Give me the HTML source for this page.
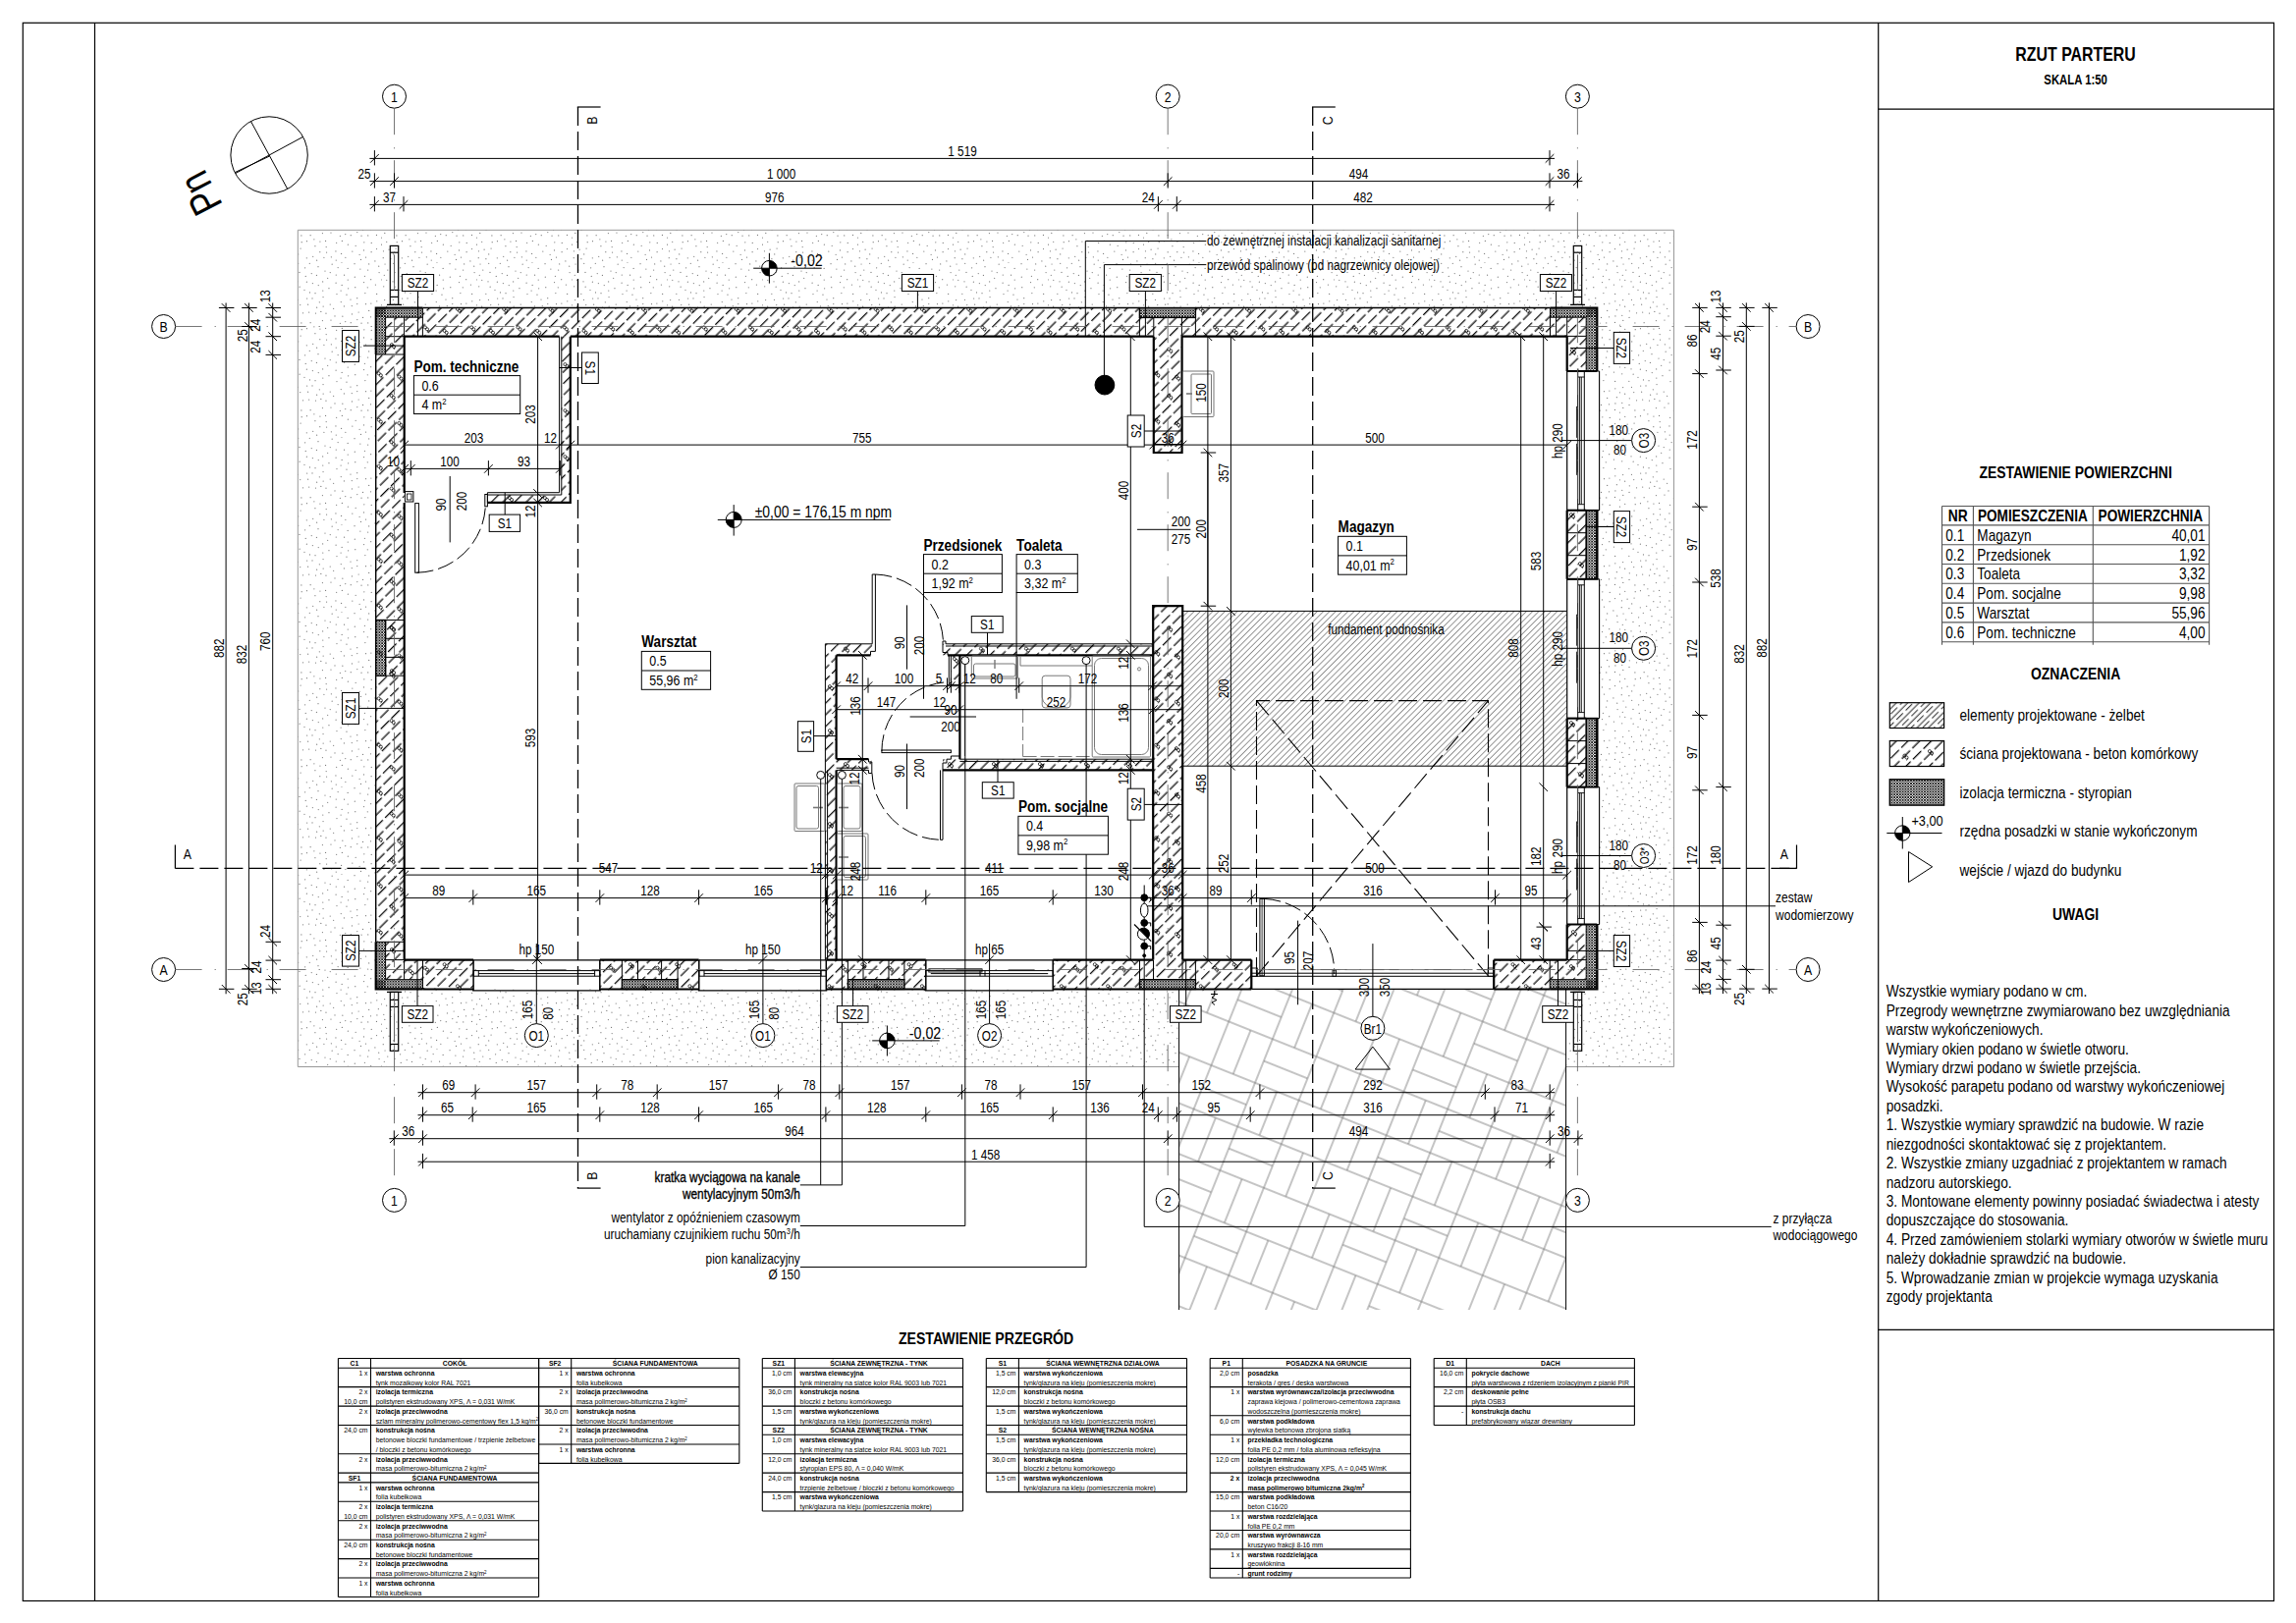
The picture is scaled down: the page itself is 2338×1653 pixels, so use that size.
<!DOCTYPE html>
<html><head><meta charset="utf-8"><title>Rzut parteru</title>
<style>html,body{margin:0;padding:0;background:#fff}svg{display:block}text{font-family:"Liberation Sans",sans-serif;fill:#000}</style>
</head><body>
<svg width="2338" height="1653" viewBox="0 0 2338 1653">
<defs><pattern id="gr" width="97" height="89" patternUnits="userSpaceOnUse"><g fill="#7a7a7a"><circle cx="31.41" cy="13.43" r="0.62"/><circle cx="63.14" cy="6.45" r="0.62"/><circle cx="51.98" cy="32.55" r="0.62"/><circle cx="5.63" cy="45.16" r="0.62"/><circle cx="3.64" cy="38.59" r="0.62"/><circle cx="6.78" cy="8.07" r="0.62"/><circle cx="41.18" cy="73.59" r="0.62"/><circle cx="12.01" cy="19.87" r="0.62"/><circle cx="60.86" cy="84.35" r="0.62"/><circle cx="94.7" cy="4.15" r="0.62"/><circle cx="83.27" cy="25.78" r="0.62"/><circle cx="13.99" cy="10.48" r="0.62"/><circle cx="29.92" cy="72.64" r="0.62"/><circle cx="17.53" cy="51.76" r="0.62"/><circle cx="61.97" cy="33.14" r="0.62"/><circle cx="53.13" cy="5.59" r="0.62"/><circle cx="5.78" cy="18.33" r="0.62"/><circle cx="66" cy="38.06" r="0.62"/><circle cx="30.47" cy="52.12" r="0.62"/><circle cx="43.96" cy="26.68" r="0.62"/><circle cx="77.05" cy="62.21" r="0.62"/><circle cx="23.68" cy="51.12" r="0.62"/><circle cx="50.94" cy="77.89" r="0.62"/><circle cx="70.76" cy="25.63" r="0.62"/><circle cx="95.08" cy="10.51" r="0.62"/><circle cx="40.56" cy="67.39" r="0.62"/><circle cx="14.74" cy="43.52" r="0.62"/><circle cx="3.8" cy="59.47" r="0.62"/><circle cx="74.16" cy="51" r="0.62"/><circle cx="67.44" cy="52.9" r="0.62"/><circle cx="56.25" cy="40.6" r="0.62"/><circle cx="81.48" cy="84.08" r="0.62"/><circle cx="45.99" cy="59.11" r="0.62"/><circle cx="37.42" cy="59.51" r="0.62"/><circle cx="5.72" cy="68.37" r="0.62"/><circle cx="79.47" cy="76.89" r="0.62"/><circle cx="27.01" cy="36.96" r="0.62"/><circle cx="34.8" cy="78.69" r="0.62"/><circle cx="22.63" cy="43.16" r="0.62"/><circle cx="57.14" cy="23.38" r="0.62"/><circle cx="35.82" cy="50.4" r="0.62"/><circle cx="92.45" cy="61.45" r="0.62"/><circle cx="50" cy="54.97" r="0.62"/><circle cx="87.25" cy="69.42" r="0.62"/><circle cx="38.06" cy="35.51" r="0.62"/><circle cx="10.04" cy="56.45" r="0.62"/><circle cx="20.25" cy="14.44" r="0.62"/><circle cx="32.99" cy="4.68" r="0.62"/><circle cx="9.84" cy="32.36" r="0.62"/><circle cx="2.47" cy="77.82" r="0.62"/><circle cx="59.56" cy="13.22" r="0.62"/><circle cx="24.47" cy="30.92" r="0.62"/><circle cx="45.2" cy="43.06" r="0.62"/><circle cx="33.24" cy="23.56" r="0.62"/><circle cx="80.4" cy="14.37" r="0.62"/><circle cx="2.24" cy="84.64" r="0.62"/><circle cx="51.24" cy="13.05" r="0.62"/><circle cx="51.23" cy="87.09" r="0.62"/><circle cx="83.74" cy="61.96" r="0.62"/><circle cx="16.2" cy="68.7" r="0.62"/><circle cx="51.66" cy="69.34" r="0.62"/><circle cx="2.71" cy="24.87" r="0.62"/><circle cx="25.14" cy="61.63" r="0.62"/><circle cx="92.78" cy="39.8" r="0.62"/><circle cx="90.89" cy="87.94" r="0.62"/><circle cx="92.64" cy="32.45" r="0.62"/><circle cx="21.38" cy="20.19" r="0.62"/><circle cx="81.52" cy="42.67" r="0.62"/><circle cx="63.34" cy="71.17" r="0.62"/><circle cx="72.76" cy="42.54" r="0.62"/><circle cx="38.93" cy="84.26" r="0.62"/><circle cx="70.31" cy="15.13" r="0.62"/><circle cx="12.71" cy="1.27" r="0.62"/><circle cx="12.71" cy="80.99" r="0.62"/><circle cx="34.32" cy="40.78" r="0.62"/><circle cx="56.58" cy="80.48" r="0.62"/><circle cx="48.66" cy="47.33" r="0.62"/><circle cx="42.69" cy="16.3" r="0.62"/><circle cx="0.38" cy="71.13" r="0.62"/><circle cx="31.62" cy="46.13" r="0.62"/><circle cx="10.29" cy="49.87" r="0.62"/><circle cx="59.42" cy="44.99" r="0.62"/><circle cx="46.37" cy="83.79" r="0.62"/><circle cx="67.82" cy="78.01" r="0.62"/><circle cx="91.39" cy="23.1" r="0.62"/><circle cx="21.3" cy="84.77" r="0.62"/><circle cx="18.99" cy="28.35" r="0.62"/><circle cx="70.05" cy="1.73" r="0.62"/><circle cx="76.47" cy="86.48" r="0.62"/><circle cx="26.23" cy="11.53" r="0.62"/><circle cx="55.35" cy="62.34" r="0.62"/><circle cx="8.12" cy="76.2" r="0.62"/><circle cx="51.11" cy="21.22" r="0.62"/><circle cx="24.29" cy="1.37" r="0.62"/><circle cx="38.13" cy="45.1" r="0.62"/><circle cx="27.35" cy="21.56" r="0.62"/><circle cx="94.34" cy="48.69" r="0.62"/><circle cx="30.03" cy="31.74" r="0.62"/><circle cx="4.04" cy="2" r="0.62"/><circle cx="72.8" cy="58.52" r="0.62"/><circle cx="37.78" cy="29.03" r="0.62"/><circle cx="86.52" cy="55.83" r="0.62"/><circle cx="71.18" cy="72.29" r="0.62"/><circle cx="66.24" cy="61.71" r="0.62"/><circle cx="60.74" cy="60.58" r="0.62"/><circle cx="45.23" cy="10.55" r="0.62"/><circle cx="86.69" cy="17.73" r="0.62"/><circle cx="47.16" cy="2.21" r="0.62"/><circle cx="0.35" cy="43.76" r="0.62"/><circle cx="27.71" cy="83.27" r="0.62"/><circle cx="28.88" cy="65.77" r="0.62"/><circle cx="63.63" cy="26.77" r="0.62"/><circle cx="72.72" cy="36.74" r="0.62"/><circle cx="92.53" cy="75.53" r="0.62"/><circle cx="84.67" cy="1.94" r="0.62"/><circle cx="86.88" cy="42.12" r="0.62"/><circle cx="56.96" cy="0.02" r="0.62"/><circle cx="37.64" cy="19.9" r="0.62"/><circle cx="79.54" cy="20.54" r="0.62"/><circle cx="21.48" cy="67.68" r="0.62"/><circle cx="21.66" cy="37.12" r="0.62"/><circle cx="87.12" cy="78.64" r="0.62"/><circle cx="92.9" cy="54.91" r="0.62"/><circle cx="79.81" cy="68.78" r="0.62"/><circle cx="75.88" cy="7.03" r="0.62"/><circle cx="31.6" cy="87.24" r="0.62"/><circle cx="56.09" cy="29.04" r="0.62"/><circle cx="57.83" cy="55.18" r="0.62"/><circle cx="63.21" cy="18.11" r="0.62"/><circle cx="15.88" cy="61.89" r="0.62"/><circle cx="14.15" cy="25.21" r="0.62"/><circle cx="12.46" cy="38.32" r="0.62"/><circle cx="84.68" cy="49.41" r="0.62"/><circle cx="34.94" cy="68.05" r="0.62"/><circle cx="3.28" cy="13.29" r="0.62"/><circle cx="83.64" cy="8.09" r="0.62"/><circle cx="0.13" cy="17.98" r="0.62"/><circle cx="15.07" cy="75.04" r="0.62"/><circle cx="9.88" cy="85.65" r="0.62"/><circle cx="67.26" cy="44.54" r="0.62"/><circle cx="78.53" cy="56.45" r="0.62"/><circle cx="80.87" cy="31.57" r="0.62"/><circle cx="0.26" cy="64.24" r="0.62"/><circle cx="2.77" cy="54.26" r="0.62"/><circle cx="75.13" cy="81.35" r="0.62"/><circle cx="40" cy="9.08" r="0.62"/><circle cx="41.57" cy="79.04" r="0.62"/><circle cx="40.98" cy="52.21" r="0.62"/><circle cx="57.37" cy="67.45" r="0.62"/><circle cx="19.62" cy="5.85" r="0.62"/></g></pattern><pattern id="ak" width="15.2" height="16.76" patternUnits="userSpaceOnUse" patternTransform="rotate(-45)"><path d="M0 3.1H11.9M7.6 11.5H15.2M0 11.5H4.3" stroke="#000" stroke-width="1.2"/></pattern><pattern id="zb" width="13.24" height="8.2" patternUnits="userSpaceOnUse" patternTransform="rotate(-45)"><path d="M0 2H13.24M0 6.1H9.2" stroke="#000" stroke-width="0.86"/></pattern><pattern id="st" width="2.8" height="2.8" patternUnits="userSpaceOnUse"><path d="M0 0L2.8 2.8M2.8 0L0 2.8" stroke="#000" stroke-width="0.86"/></pattern><pattern id="fu" width="10" height="4.43" patternUnits="userSpaceOnUse" patternTransform="rotate(-45)"><path d="M0 2.2H10" stroke="#6a6a6a" stroke-width="0.75"/></pattern><pattern id="pv" width="192" height="96" patternUnits="userSpaceOnUse" patternTransform="translate(1200 1007) rotate(21.8)"><g stroke="#7c7c7c" stroke-width="0.9" fill="none"><path transform="translate(12 12)" d="M0 0H192M0 48H192M0 0V96M48 0V96M96 0V96M144 0V96M72 0V48M24 48V96M48 72H96M96 24H144M168 0V48M120 48V96"/><path transform="translate(12 -84)" d="M0 0H192M0 48H192M0 0V96M48 0V96M96 0V96M144 0V96M72 0V48M24 48V96M48 72H96M96 24H144M168 0V48M120 48V96"/><path transform="translate(-180 12)" d="M0 0H192M0 48H192M0 0V96M48 0V96M96 0V96M144 0V96M72 0V48M24 48V96M48 72H96M96 24H144M168 0V48M120 48V96"/><path transform="translate(-180 -84)" d="M0 0H192M0 48H192M0 0V96M48 0V96M96 0V96M144 0V96M72 0V48M24 48V96M48 72H96M96 24H144M168 0V48M120 48V96"/></g></pattern><pattern id="akl" width="15.2" height="16.76" patternUnits="userSpaceOnUse" patternTransform="translate(3 0) rotate(-45)"><path d="M0 3.1H11.9M7.6 11.5H15.2M0 11.5H4.3" stroke="#000" stroke-width="1.2"/></pattern><g id="s8" fill="none" stroke="#000" stroke-width="0.7"><circle cx="-1.1" cy="-0.9" r="1.55"/><circle cx="1" cy="1" r="1.55"/><path d="M2.4 1.6L1 4"/></g></defs>
<rect x="23.3" y="23.3" width="2292.2" height="1607.2" stroke="#000" stroke-width="1.2" fill="none"/>
<path d="M96.5 23.3L96.5 1630.5" stroke="#000" stroke-width="1.2"/>
<path d="M1912.7 23.3L1912.7 1630.5" stroke="#000" stroke-width="1.2"/>
<path d="M1912.7 111.2L2315.5 111.2" stroke="#000" stroke-width="1.2"/>
<path d="M1912.7 1354.3L2315.5 1354.3" stroke="#000" stroke-width="1.2"/>
<rect x="303.3" y="234.3" width="1401.2" height="852.2" fill="url(#gr)" stroke="none"/>
<rect x="382.7" y="313.5" width="1246.1" height="693.9" fill="#fff" stroke="none"/>
<rect x="1200.6" y="1007.4" width="394" height="326.6" fill="#fff" stroke="none"/>
<rect x="1200.6" y="1007.4" width="394" height="326.6" fill="url(#pv)" stroke="none"/>
<path d="M1200.6 1086.5L303.3 1086.5L303.3 234.3L1704.5 234.3L1704.5 1086.5L1594.6 1086.5" stroke="#999" stroke-width="1" fill="none"/>
<path d="M1200.6 1007.4L1200.6 1334" stroke="#000" stroke-width="1"/>
<path d="M1594.6 1007.4L1594.6 1334" stroke="#000" stroke-width="1"/>
<rect x="1204.5" y="622.4" width="390.7" height="157.8" fill="url(#fu)" stroke="none"/>
<path d="M1204.5 622.4L1595.2 622.4" stroke="#000" stroke-width="1"/>
<path d="M1204.5 780.2L1595.2 780.2" stroke="#000" stroke-width="1"/>
<rect x="430.4" y="313.5" width="730" height="29.2" fill="url(#ak)" stroke="none"/>
<rect x="1217.4" y="313.5" width="361.6" height="29.2" fill="url(#ak)" stroke="none"/>
<rect x="382.7" y="361" width="29" height="270.5" fill="url(#ak)" stroke="none"/>
<rect x="382.7" y="688.2" width="29" height="271.1" fill="url(#ak)" stroke="none"/>
<rect x="430.5" y="977.6" width="51.5" height="29.8" fill="url(#ak)" stroke="none"/>
<rect x="610.8" y="977.6" width="22.6" height="29.8" fill="url(#ak)" stroke="none"/>
<rect x="690.1" y="977.6" width="21.5" height="29.8" fill="url(#ak)" stroke="none"/>
<rect x="841.5" y="977.6" width="21.9" height="29.8" fill="url(#ak)" stroke="none"/>
<rect x="920.9" y="977.6" width="21.9" height="29.8" fill="url(#ak)" stroke="none"/>
<rect x="1072.2" y="977.6" width="88.3" height="29.8" fill="url(#ak)" stroke="none"/>
<rect x="1217.4" y="977.6" width="56.9" height="29.8" fill="url(#ak)" stroke="none"/>
<rect x="1521.2" y="977.6" width="57" height="29.8" fill="url(#ak)" stroke="none"/>
<rect x="1174.8" y="342.7" width="28.8" height="118.3" fill="url(#ak)" stroke="none"/>
<rect x="1174.2" y="617.2" width="30" height="360.4" fill="url(#ak)" stroke="none"/>
<rect x="571.6" y="342.7" width="9.2" height="169.2" fill="url(#ak)" stroke="none"/>
<rect x="497" y="504" width="74.6" height="7.9" fill="url(#ak)" stroke="none"/>
<rect x="840.4" y="655.8" width="11.2" height="321.8" fill="url(#ak)" stroke="none"/>
<rect x="851.6" y="655.8" width="36.6" height="11.5" fill="url(#ak)" stroke="none"/>
<rect x="960" y="655.8" width="213.6" height="11.5" fill="url(#ak)" stroke="none"/>
<rect x="851.6" y="773.2" width="35.8" height="11.2" fill="url(#ak)" stroke="none"/>
<rect x="960" y="773.2" width="213.6" height="11.2" fill="url(#ak)" stroke="none"/>
<rect x="968.4" y="667.3" width="9" height="29.7" fill="url(#ak)" stroke="none"/>
<rect x="382.7" y="313.5" width="47.7" height="9.7" fill="url(#st)" stroke="none"/>
<rect x="382.7" y="313.5" width="9.9" height="47.5" fill="url(#st)" stroke="none"/>
<rect x="392.6" y="323.2" width="37.8" height="19.5" fill="url(#ak)" stroke="none"/>
<rect x="392.6" y="342.7" width="19.1" height="18.3" fill="url(#ak)" stroke="none"/>
<rect x="1578.5" y="313.5" width="47.8" height="9.7" fill="url(#st)" stroke="none"/>
<rect x="1615.2" y="313.5" width="11.1" height="64.5" fill="url(#st)" stroke="none"/>
<rect x="1578.5" y="323.2" width="36.7" height="19.5" fill="url(#ak)" stroke="none"/>
<rect x="1595.7" y="342.7" width="19.5" height="35.3" fill="url(#ak)" stroke="none"/>
<rect x="382.7" y="959.3" width="9.9" height="48.1" fill="url(#st)" stroke="none"/>
<rect x="382.7" y="997.7" width="47.8" height="9.7" fill="url(#st)" stroke="none"/>
<rect x="392.6" y="959.3" width="19.1" height="18.3" fill="url(#ak)" stroke="none"/>
<rect x="392.6" y="977.6" width="37.9" height="20.1" fill="url(#ak)" stroke="none"/>
<rect x="1615.2" y="941.5" width="11.1" height="65.9" fill="url(#st)" stroke="none"/>
<rect x="1578.2" y="997.7" width="48.1" height="9.7" fill="url(#st)" stroke="none"/>
<rect x="1595.7" y="941.5" width="19.5" height="36.1" fill="url(#ak)" stroke="none"/>
<rect x="1578.2" y="977.6" width="37" height="20.1" fill="url(#ak)" stroke="none"/>
<rect x="1160.4" y="313.5" width="57" height="9.9" fill="url(#st)" stroke="none"/>
<rect x="1160.4" y="323.4" width="57" height="19.3" fill="url(#ak)" stroke="none"/>
<rect x="1160.5" y="997.7" width="56.9" height="9.7" fill="url(#st)" stroke="none"/>
<rect x="1160.5" y="977.6" width="56.9" height="20.1" fill="url(#ak)" stroke="none"/>
<rect x="382.7" y="631.5" width="10" height="56.7" fill="url(#st)" stroke="none"/>
<rect x="392.7" y="631.5" width="19" height="56.7" fill="url(#ak)" stroke="none"/>
<rect x="633.4" y="997.7" width="56.7" height="9.7" fill="url(#st)" stroke="none"/>
<rect x="633.4" y="977.6" width="56.7" height="20.1" fill="url(#ak)" stroke="none"/>
<rect x="863.4" y="997.7" width="57.5" height="9.7" fill="url(#st)" stroke="none"/>
<rect x="863.4" y="977.6" width="57.5" height="20.1" fill="url(#ak)" stroke="none"/>
<rect x="1615.2" y="519.7" width="11.1" height="70.1" fill="url(#st)" stroke="none"/>
<rect x="1595.7" y="519.7" width="19.5" height="70.1" fill="url(#ak)" stroke="none"/>
<rect x="1615.2" y="731.6" width="11.1" height="70" fill="url(#st)" stroke="none"/>
<rect x="1595.7" y="731.6" width="19.5" height="70" fill="url(#ak)" stroke="none"/>
<use href="#s8" x="434" y="334.3"/>
<use href="#s8" x="453.7" y="337.8"/>
<use href="#s8" x="467" y="315.7"/>
<use href="#s8" x="481.3" y="334.3"/>
<use href="#s8" x="501" y="337.8"/>
<use href="#s8" x="514.3" y="315.7"/>
<use href="#s8" x="528.6" y="334.3"/>
<use href="#s8" x="548.3" y="337.8"/>
<use href="#s8" x="561.6" y="315.7"/>
<use href="#s8" x="575.9" y="334.3"/>
<use href="#s8" x="595.6" y="337.8"/>
<use href="#s8" x="608.9" y="315.7"/>
<use href="#s8" x="623.2" y="334.3"/>
<use href="#s8" x="642.9" y="337.8"/>
<use href="#s8" x="656.2" y="315.7"/>
<use href="#s8" x="670.5" y="334.3"/>
<use href="#s8" x="690.2" y="337.8"/>
<use href="#s8" x="703.5" y="315.7"/>
<use href="#s8" x="717.8" y="334.3"/>
<use href="#s8" x="737.5" y="337.8"/>
<use href="#s8" x="750.8" y="315.7"/>
<use href="#s8" x="765.1" y="334.3"/>
<use href="#s8" x="784.8" y="337.8"/>
<use href="#s8" x="798.1" y="315.7"/>
<use href="#s8" x="812.4" y="334.3"/>
<use href="#s8" x="832.1" y="337.8"/>
<use href="#s8" x="845.4" y="315.7"/>
<use href="#s8" x="859.7" y="334.3"/>
<use href="#s8" x="879.4" y="337.8"/>
<use href="#s8" x="892.7" y="315.7"/>
<use href="#s8" x="907" y="334.3"/>
<use href="#s8" x="926.7" y="337.8"/>
<use href="#s8" x="940" y="315.7"/>
<use href="#s8" x="954.3" y="334.3"/>
<use href="#s8" x="974" y="337.8"/>
<use href="#s8" x="987.3" y="315.7"/>
<use href="#s8" x="1001.6" y="334.3"/>
<use href="#s8" x="1021.3" y="337.8"/>
<use href="#s8" x="1034.6" y="315.7"/>
<use href="#s8" x="1048.9" y="334.3"/>
<use href="#s8" x="1068.6" y="337.8"/>
<use href="#s8" x="1081.9" y="315.7"/>
<use href="#s8" x="1096.2" y="334.3"/>
<use href="#s8" x="1115.9" y="337.8"/>
<use href="#s8" x="1129.2" y="315.7"/>
<use href="#s8" x="1143.5" y="334.3"/>
<use href="#s8" x="1223.8" y="315.7"/>
<use href="#s8" x="1238.1" y="334.3"/>
<use href="#s8" x="1257.8" y="337.8"/>
<use href="#s8" x="1271.1" y="315.7"/>
<use href="#s8" x="1285.4" y="334.3"/>
<use href="#s8" x="1305.1" y="337.8"/>
<use href="#s8" x="1318.4" y="315.7"/>
<use href="#s8" x="1332.7" y="334.3"/>
<use href="#s8" x="1352.4" y="337.8"/>
<use href="#s8" x="1365.7" y="315.7"/>
<use href="#s8" x="1380" y="334.3"/>
<use href="#s8" x="1399.7" y="337.8"/>
<use href="#s8" x="1413" y="315.7"/>
<use href="#s8" x="1427.3" y="334.3"/>
<use href="#s8" x="1447" y="337.8"/>
<use href="#s8" x="1460.3" y="315.7"/>
<use href="#s8" x="1474.6" y="334.3"/>
<use href="#s8" x="1494.3" y="337.8"/>
<use href="#s8" x="1507.6" y="315.7"/>
<use href="#s8" x="1521.9" y="334.3"/>
<use href="#s8" x="1541.6" y="337.8"/>
<use href="#s8" x="1554.9" y="315.7"/>
<use href="#s8" x="1569.2" y="334.3"/>
<use href="#s8" x="434" y="986.6"/>
<use href="#s8" x="453.7" y="983.1"/>
<use href="#s8" x="467" y="1005.2"/>
<use href="#s8" x="623.2" y="986.6"/>
<use href="#s8" x="642.9" y="983.1"/>
<use href="#s8" x="656.2" y="1005.2"/>
<use href="#s8" x="670.5" y="986.6"/>
<use href="#s8" x="690.2" y="983.1"/>
<use href="#s8" x="703.5" y="1005.2"/>
<use href="#s8" x="845.4" y="1005.2"/>
<use href="#s8" x="859.7" y="986.6"/>
<use href="#s8" x="879.4" y="983.1"/>
<use href="#s8" x="892.7" y="1005.2"/>
<use href="#s8" x="907" y="986.6"/>
<use href="#s8" x="926.7" y="983.1"/>
<use href="#s8" x="940" y="1005.2"/>
<use href="#s8" x="1081.9" y="1005.2"/>
<use href="#s8" x="1096.2" y="986.6"/>
<use href="#s8" x="1115.9" y="983.1"/>
<use href="#s8" x="1129.2" y="1005.2"/>
<use href="#s8" x="1143.5" y="986.6"/>
<use href="#s8" x="1223.8" y="1005.2"/>
<use href="#s8" x="1238.1" y="986.6"/>
<use href="#s8" x="1257.8" y="983.1"/>
<use href="#s8" x="1541.6" y="983.1"/>
<use href="#s8" x="1554.9" y="1005.2"/>
<use href="#s8" x="1569.2" y="986.6"/>
<use href="#s8" x="386.8" y="381.2"/>
<use href="#s8" x="407.5" y="384.6"/>
<use href="#s8" x="399.7" y="403.8"/>
<use href="#s8" x="386.8" y="428.5"/>
<use href="#s8" x="407.5" y="431.9"/>
<use href="#s8" x="399.7" y="451.1"/>
<use href="#s8" x="386.8" y="475.8"/>
<use href="#s8" x="407.5" y="479.2"/>
<use href="#s8" x="399.7" y="498.4"/>
<use href="#s8" x="386.8" y="523.1"/>
<use href="#s8" x="407.5" y="526.5"/>
<use href="#s8" x="399.7" y="545.7"/>
<use href="#s8" x="386.8" y="570.4"/>
<use href="#s8" x="407.5" y="573.8"/>
<use href="#s8" x="399.7" y="593"/>
<use href="#s8" x="386.8" y="617.7"/>
<use href="#s8" x="407.5" y="621.1"/>
<use href="#s8" x="399.7" y="640.3"/>
<use href="#s8" x="386.8" y="665"/>
<use href="#s8" x="407.5" y="668.4"/>
<use href="#s8" x="399.7" y="687.6"/>
<use href="#s8" x="386.8" y="712.3"/>
<use href="#s8" x="407.5" y="715.7"/>
<use href="#s8" x="399.7" y="734.9"/>
<use href="#s8" x="386.8" y="759.6"/>
<use href="#s8" x="407.5" y="763"/>
<use href="#s8" x="399.7" y="782.2"/>
<use href="#s8" x="386.8" y="806.9"/>
<use href="#s8" x="407.5" y="810.3"/>
<use href="#s8" x="399.7" y="829.5"/>
<use href="#s8" x="386.8" y="854.2"/>
<use href="#s8" x="407.5" y="857.6"/>
<use href="#s8" x="399.7" y="876.8"/>
<use href="#s8" x="386.8" y="901.5"/>
<use href="#s8" x="407.5" y="904.9"/>
<use href="#s8" x="399.7" y="924.1"/>
<use href="#s8" x="386.8" y="948.8"/>
<use href="#s8" x="407.5" y="952.2"/>
<use href="#s8" x="1191.3" y="356.5"/>
<use href="#s8" x="1178.4" y="381.2"/>
<use href="#s8" x="1199.1" y="384.6"/>
<use href="#s8" x="1191.3" y="403.8"/>
<use href="#s8" x="1178.4" y="428.5"/>
<use href="#s8" x="1199.1" y="431.9"/>
<use href="#s8" x="1191.3" y="451.1"/>
<use href="#s8" x="1191.2" y="640.3"/>
<use href="#s8" x="1178.3" y="665"/>
<use href="#s8" x="1199" y="668.4"/>
<use href="#s8" x="1191.2" y="687.6"/>
<use href="#s8" x="1178.3" y="712.3"/>
<use href="#s8" x="1199" y="715.7"/>
<use href="#s8" x="1191.2" y="734.9"/>
<use href="#s8" x="1178.3" y="759.6"/>
<use href="#s8" x="1199" y="763"/>
<use href="#s8" x="1191.2" y="782.2"/>
<use href="#s8" x="1178.3" y="806.9"/>
<use href="#s8" x="1199" y="810.3"/>
<use href="#s8" x="1191.2" y="829.5"/>
<use href="#s8" x="1178.3" y="854.2"/>
<use href="#s8" x="1199" y="857.6"/>
<use href="#s8" x="1191.2" y="876.8"/>
<use href="#s8" x="1178.3" y="901.5"/>
<use href="#s8" x="1199" y="904.9"/>
<use href="#s8" x="1191.2" y="924.1"/>
<use href="#s8" x="1178.3" y="948.8"/>
<use href="#s8" x="1199" y="952.2"/>
<use href="#s8" x="1191.2" y="971.4"/>
<use href="#s8" x="1602" y="358"/>
<use href="#s8" x="1601" y="525"/>
<use href="#s8" x="1610" y="575"/>
<use href="#s8" x="1601" y="737"/>
<use href="#s8" x="1610" y="789"/>
<use href="#s8" x="1603" y="950"/>
<use href="#s8" x="1601" y="985"/>
<use href="#s8" x="400" y="352"/>
<use href="#s8" x="400" y="640"/>
<use href="#s8" x="400" y="684"/>
<use href="#s8" x="400" y="968"/>
<use href="#s8" x="419" y="990"/>
<use href="#s8" x="576.5" y="372"/>
<use href="#s8" x="576.5" y="419"/>
<use href="#s8" x="576.5" y="466"/>
<use href="#s8" x="520" y="508"/>
<use href="#s8" x="556" y="508"/>
<use href="#s8" x="846" y="700"/>
<use href="#s8" x="846" y="745"/>
<use href="#s8" x="846" y="790"/>
<use href="#s8" x="846" y="840"/>
<use href="#s8" x="846" y="886"/>
<use href="#s8" x="846" y="932"/>
<use href="#s8" x="846" y="970"/>
<use href="#s8" x="862" y="661.5"/>
<use href="#s8" x="1000" y="661.5"/>
<use href="#s8" x="1046" y="661.5"/>
<use href="#s8" x="1093" y="661.5"/>
<use href="#s8" x="1140" y="661.5"/>
<use href="#s8" x="862" y="779"/>
<use href="#s8" x="968" y="779"/>
<use href="#s8" x="1013" y="779"/>
<use href="#s8" x="1060" y="779"/>
<use href="#s8" x="1107" y="779"/>
<use href="#s8" x="1150" y="779"/>
<use href="#s8" x="973" y="672"/>
<path d="M430.4 313.5L1160.4 313.5" stroke="#000" stroke-width="1.4" fill="none"/>
<path d="M1217.4 313.5L1578.5 313.5" stroke="#000" stroke-width="1.4" fill="none"/>
<path d="M382.7 361L382.7 631.5" stroke="#000" stroke-width="1.4" fill="none"/>
<path d="M382.7 688.2L382.7 959.3" stroke="#000" stroke-width="1.4" fill="none"/>
<path d="M430.5 1007.4L482 1007.4" stroke="#000" stroke-width="2"/>
<path d="M610.8 1007.4L711.6 1007.4" stroke="#000" stroke-width="2"/>
<path d="M841.5 1007.4L942.8 1007.4" stroke="#000" stroke-width="2"/>
<path d="M1072.2 1007.4L1274.3 1007.4" stroke="#000" stroke-width="2"/>
<path d="M1521.2 1007.4L1578.2 1007.4" stroke="#000" stroke-width="2"/>
<path d="M382.7 361L382.7 313.5L430.4 313.5" stroke="#000" stroke-width="2" fill="none"/>
<path d="M430.4 313.5L430.4 342.7" stroke="#000" stroke-width="1" fill="none"/>
<path d="M392.6 361L392.6 323.2L430.4 323.2" stroke="#000" stroke-width="1" fill="none"/>
<path d="M382.7 361L411.7 361" stroke="#000" stroke-width="1"/>
<path d="M411.6 323.2L411.6 342.7" stroke="#000" stroke-width="1"/>
<path d="M425.5 313.5L425.5 342.7" stroke="#000" stroke-width="1"/>
<path d="M392.6 342.7L411.7 342.7" stroke="#000" stroke-width="1"/>
<path d="M370 352.1L411.7 352.1" stroke="#000" stroke-width="1"/>
<path d="M1578.5 313.5L1626.3 313.5L1626.3 378" stroke="#000" stroke-width="2.2" fill="none"/>
<path d="M1578.5 313.5L1578.5 342.7" stroke="#000" stroke-width="1"/>
<path d="M1578.5 323.2L1615.2 323.2L1615.2 378" stroke="#000" stroke-width="1" fill="none"/>
<path d="M1595.7 378L1626.3 378" stroke="#000" stroke-width="2"/>
<path d="M1584.6 296.5L1584.6 342.7" stroke="#000" stroke-width="1"/>
<path d="M1595.7 323.2L1595.7 342.7" stroke="#000" stroke-width="1"/>
<path d="M1599 354.5L1643.3 354.5" stroke="#000" stroke-width="1"/>
<path d="M1595.7 342.4L1615.2 342.4" stroke="#000" stroke-width="1"/>
<path d="M382.7 959.3L382.7 1007.4L430.5 1007.4" stroke="#000" stroke-width="2.2" fill="none"/>
<path d="M392.6 959.3L392.6 997.7L430.5 997.7" stroke="#000" stroke-width="1" fill="none"/>
<path d="M382.7 959.3L411.7 959.3" stroke="#000" stroke-width="1"/>
<path d="M430.5 977.6L430.5 1007.4" stroke="#000" stroke-width="1"/>
<path d="M411.6 977.6L411.6 997.7" stroke="#000" stroke-width="1"/>
<path d="M425 977.6L425 1024.6" stroke="#000" stroke-width="1"/>
<path d="M392.6 977.6L411.7 977.6" stroke="#000" stroke-width="1"/>
<path d="M365.5 968.4L411.7 968.4" stroke="#000" stroke-width="1"/>
<path d="M1626.3 941.5L1626.3 1007.4L1578.2 1007.4" stroke="#000" stroke-width="2.4" fill="none"/>
<path d="M1615.2 941.5L1615.2 997.7L1578.2 997.7" stroke="#000" stroke-width="1" fill="none"/>
<path d="M1595.7 941.5L1626.3 941.5" stroke="#000" stroke-width="2"/>
<path d="M1578.2 977.6L1578.2 1007.4" stroke="#000" stroke-width="1"/>
<path d="M1586.5 977.6L1586.5 1024.6" stroke="#000" stroke-width="1"/>
<path d="M1595.7 968.4L1643.5 968.4" stroke="#000" stroke-width="1"/>
<path d="M1595.7 977.6L1615.2 977.6" stroke="#000" stroke-width="1"/>
<rect x="1160.4" y="313.5" width="57" height="9.9" stroke="#000" stroke-width="1.4" fill="none"/>
<path d="M1160.4 323.4L1160.4 342.7" stroke="#000" stroke-width="1"/>
<path d="M1217.4 323.4L1217.4 342.7" stroke="#000" stroke-width="1"/>
<path d="M1166.4 296.5L1166.4 342.7" stroke="#000" stroke-width="1"/>
<path d="M1174.8 323.4L1174.8 342.7" stroke="#000" stroke-width="1"/>
<path d="M1203.4 323.4L1203.4 342.7" stroke="#000" stroke-width="1"/>
<rect x="1160.5" y="997.7" width="56.9" height="9.7" stroke="#000" stroke-width="1.4" fill="none"/>
<path d="M1160.5 977.6L1160.5 997.7" stroke="#000" stroke-width="1"/>
<path d="M1217.4 977.6L1217.4 997.7" stroke="#000" stroke-width="1"/>
<path d="M1174.5 977.6L1174.5 997.7" stroke="#000" stroke-width="1"/>
<path d="M1204 977.6L1204 997.7" stroke="#000" stroke-width="1"/>
<path d="M1207.7 977.6L1207.7 1024.6" stroke="#000" stroke-width="1"/>
<rect x="382.7" y="631.5" width="10" height="56.7" stroke="#000" stroke-width="1.4" fill="none"/>
<path d="M392.7 631.5L411.7 631.5" stroke="#000" stroke-width="1"/>
<path d="M392.7 688.2L411.7 688.2" stroke="#000" stroke-width="1"/>
<path d="M392.7 650.3L411.7 650.3" stroke="#000" stroke-width="1"/>
<path d="M392.7 669.4L411.7 669.4" stroke="#000" stroke-width="1"/>
<rect x="633.4" y="997.7" width="56.7" height="9.7" stroke="#000" stroke-width="1.4" fill="none"/>
<path d="M633.4 977.6L633.4 997.7" stroke="#000" stroke-width="1"/>
<path d="M690.1 977.6L690.1 997.7" stroke="#000" stroke-width="1"/>
<path d="M649.5 977.6L649.5 997.7" stroke="#000" stroke-width="1"/>
<path d="M673.6 977.6L673.6 997.7" stroke="#000" stroke-width="1"/>
<rect x="863.4" y="997.7" width="57.5" height="9.7" stroke="#000" stroke-width="1.4" fill="none"/>
<path d="M863.4 977.6L863.4 997.7" stroke="#000" stroke-width="1"/>
<path d="M920.9 977.6L920.9 997.7" stroke="#000" stroke-width="1"/>
<path d="M879 977.6L879 997.7" stroke="#000" stroke-width="1"/>
<path d="M905 977.6L905 997.7" stroke="#000" stroke-width="1"/>
<path d="M868.6 997.7L868.6 1024.6" stroke="#000" stroke-width="1"/>
<rect x="1615.2" y="519.7" width="11.1" height="70.1" stroke="#000" stroke-width="1.6" fill="none"/>
<path d="M1626.3 519.7L1626.3 589.8" stroke="#000" stroke-width="2.4"/>
<path d="M1595.7 519.7L1615.2 519.7" stroke="#000" stroke-width="2"/>
<path d="M1595.7 589.8L1615.2 589.8" stroke="#000" stroke-width="2"/>
<path d="M1595.7 519.7L1595.7 589.8" stroke="#000" stroke-width="2.2"/>
<path d="M1595.7 542.7L1615.2 542.7" stroke="#000" stroke-width="1"/>
<path d="M1595.7 565.7L1615.2 565.7" stroke="#000" stroke-width="1"/>
<rect x="1615.2" y="731.6" width="11.1" height="70" stroke="#000" stroke-width="1.6" fill="none"/>
<path d="M1626.3 731.6L1626.3 801.6" stroke="#000" stroke-width="2.4"/>
<path d="M1595.7 731.6L1615.2 731.6" stroke="#000" stroke-width="2"/>
<path d="M1595.7 801.6L1615.2 801.6" stroke="#000" stroke-width="2"/>
<path d="M1595.7 731.6L1595.7 801.6" stroke="#000" stroke-width="2.2"/>
<path d="M1595.7 754.6L1615.2 754.6" stroke="#000" stroke-width="1"/>
<path d="M1595.7 777.6L1615.2 777.6" stroke="#000" stroke-width="1"/>
<path d="M1615.2 536.4L1643.5 536.4" stroke="#000" stroke-width="1"/>
<path d="M411.7 502L411.7 342.7L569.6 342.7" stroke="#000" stroke-width="2.2" fill="none"/>
<path d="M580.8 342.7L1174.8 342.7" stroke="#000" stroke-width="2.2"/>
<path d="M1203.4 342.7L1595.7 342.7" stroke="#000" stroke-width="2.2"/>
<path d="M1595.7 342.7L1595.7 378" stroke="#000" stroke-width="2.2"/>
<path d="M411.7 512L411.7 977.6" stroke="#000" stroke-width="2.2"/>
<path d="M411.7 977.6L482 977.6" stroke="#000" stroke-width="2.2"/>
<path d="M610.8 977.6L711.6 977.6" stroke="#000" stroke-width="2.2"/>
<path d="M841.5 977.6L942.8 977.6" stroke="#000" stroke-width="2.2"/>
<path d="M1072.2 977.6L1174.2 977.6" stroke="#000" stroke-width="2.2"/>
<path d="M1204.2 977.6L1274.3 977.6" stroke="#000" stroke-width="2.2"/>
<path d="M1521.2 977.6L1595.7 977.6" stroke="#000" stroke-width="2.2"/>
<path d="M1595.7 941.5L1595.7 977.6" stroke="#000" stroke-width="2.2"/>
<path d="M1174.8 342.7L1174.8 461L1203.6 461L1203.6 342.7" stroke="#000" stroke-width="2.2" fill="none"/>
<path d="M1174.8 452.5L1203.6 452.5" stroke="#000" stroke-width="1"/>
<path d="M1174.2 977.6L1174.2 617.2L1204.2 617.2L1204.2 977.6" stroke="#000" stroke-width="2.2" fill="none"/>
<path d="M580.8 342.7L580.8 511.9L496.4 511.9" stroke="#000" stroke-width="2.2" fill="none"/>
<path d="M569.6 342.7L569.6 501.7" stroke="#000" stroke-width="1"/>
<path d="M571.8 342.7L571.8 504" stroke="#000" stroke-width="1"/>
<path d="M569.6 501.7L496.4 501.7" stroke="#000" stroke-width="1"/>
<path d="M571.8 504L496.4 504" stroke="#000" stroke-width="1"/>
<path d="M496.4 501.7L496.4 511.9" stroke="#000" stroke-width="1"/>
<rect x="412.4" y="500.6" width="8.5" height="10.4" stroke="#000" stroke-width="1" fill="none"/>
<rect x="414.5" y="503" width="4.5" height="6" stroke="#000" stroke-width="0.8" fill="none"/>
<rect x="422.7" y="512.6" width="3.7" height="70.6" stroke="#000" stroke-width="1" fill="none"/>
<rect x="493.8" y="503.5" width="2.6" height="12.3" stroke="#000" stroke-width="1" fill="none"/>
<path d="M424.5 583.2A71 71 0 0 0 494.3 516" stroke="#000" stroke-width="1" fill="none" stroke-dasharray="17 5"/>
<path d="M840.4 655.8L840.4 977.6" stroke="#000" stroke-width="1"/>
<path d="M851.6 667.3L851.6 773.2" stroke="#000" stroke-width="2.2" fill="none"/>
<path d="M851.6 784.4L851.6 977.6" stroke="#000" stroke-width="2.2"/>
<path d="M842.6 784.4L842.6 977.6" stroke="#000" stroke-width="1"/>
<path d="M840.4 655.8L888.2 655.8L888.2 585L891.4 585L891.4 663.4L886.5 663.4L886.5 667.3" stroke="#000" stroke-width="1" fill="none"/>
<path d="M851.6 667.3L886.5 667.3" stroke="#000" stroke-width="2.2"/>
<path d="M960 657L960 653L963 653L963 655.8L1173.6 655.8" stroke="#000" stroke-width="1" fill="none"/>
<path d="M965 667.3L1173.6 667.3" stroke="#000" stroke-width="2.2"/>
<path d="M960 657L960 664.5L965 664.5L965 667.3" stroke="#000" stroke-width="1" fill="none"/>
<path d="M963 658L1173.6 658" stroke="#000" stroke-width="1"/>
<path d="M851.6 773.2L884.5 773.2" stroke="#000" stroke-width="2.2"/>
<path d="M884.5 773.2L884.5 776L887.8 776L887.8 787.5L884.5 787.5L884.5 784.4" stroke="#000" stroke-width="1" fill="none"/>
<path d="M851.6 784.4L884.5 784.4" stroke="#000" stroke-width="1"/>
<path d="M851.6 782.2L884.5 782.2" stroke="#000" stroke-width="1"/>
<path d="M977.4 773.2L1173.6 773.2" stroke="#000" stroke-width="1"/>
<path d="M977.4 775.4L1173.6 775.4" stroke="#000" stroke-width="1"/>
<path d="M960 784.4L1173.6 784.4" stroke="#000" stroke-width="2.2"/>
<path d="M977.4 773.2L977.4 770L968.4 770L968.4 773.2L964 773.2L964 777L960 777L960 855.3L957.5 855.3L957.5 784.4" stroke="#000" stroke-width="1" fill="none"/>
<path d="M977.4 667.3L977.4 773.2" stroke="#000" stroke-width="2.2"/>
<path d="M968.4 667.3L968.4 697.4" stroke="#000" stroke-width="1"/>
<path d="M966.3 667.3L966.3 697.4" stroke="#000" stroke-width="1"/>
<path d="M966.3 697.4L977.4 697.4" stroke="#000" stroke-width="1"/>
<path d="M982.4 672L982.4 770" stroke="#444" stroke-width="0.8"/>
<rect x="897.9" y="764" width="70.5" height="2.6" stroke="#000" stroke-width="1" fill="none"/>
<path d="M897.9 765A70.5 70.5 0 0 1 961 695" stroke="#000" stroke-width="1" fill="none" stroke-dasharray="17 5"/>
<path d="M891.4 585A71 71 0 0 1 960.5 655" stroke="#000" stroke-width="1" fill="none" stroke-dasharray="17 5"/>
<path d="M888 787.5A71 71 0 0 0 959 855.3" stroke="#000" stroke-width="1" fill="none" stroke-dasharray="17 5"/>
<path d="M482.1 977.6L482.1 1008.9" stroke="#000" stroke-width="1.5"/>
<path d="M610.8 977.6L610.8 1008.9" stroke="#000" stroke-width="1.5"/>
<path d="M482.1 977.9L610.8 977.9" stroke="#000" stroke-width="1.1"/>
<path d="M481.1 1008.9L611.8 1008.9" stroke="#000" stroke-width="1.3"/>
<rect x="482.1" y="988.6" width="128.7" height="5.6" stroke="#000" stroke-width="1" fill="none"/>
<path d="M487.3 988.6L487.3 994.2" stroke="#000" stroke-width="1"/>
<path d="M605.6 988.6L605.6 994.2" stroke="#000" stroke-width="1"/>
<path d="M487.3 991.6L605.6 991.6" stroke="#000" stroke-width="1"/>
<path d="M711.8 977.6L711.8 1008.9" stroke="#000" stroke-width="1.5"/>
<path d="M841.3 977.6L841.3 1008.9" stroke="#000" stroke-width="1.5"/>
<path d="M711.8 977.9L841.3 977.9" stroke="#000" stroke-width="1.1"/>
<path d="M710.8 1008.9L842.3 1008.9" stroke="#000" stroke-width="1.3"/>
<rect x="711.8" y="988.6" width="129.5" height="5.6" stroke="#000" stroke-width="1" fill="none"/>
<path d="M717 988.6L717 994.2" stroke="#000" stroke-width="1"/>
<path d="M836.1 988.6L836.1 994.2" stroke="#000" stroke-width="1"/>
<path d="M717 991.6L836.1 991.6" stroke="#000" stroke-width="1"/>
<path d="M942.8 977.6L942.8 1008.9" stroke="#000" stroke-width="1.5"/>
<path d="M1072.2 977.6L1072.2 1008.9" stroke="#000" stroke-width="1.5"/>
<path d="M942.8 977.9L1072.2 977.9" stroke="#000" stroke-width="1.1"/>
<path d="M941.8 1008.9L1073.2 1008.9" stroke="#000" stroke-width="1.3"/>
<rect x="942.8" y="988.6" width="129.4" height="5.6" stroke="#000" stroke-width="1" fill="none"/>
<rect x="945.8" y="986.8" width="54.2" height="3.2" stroke="#000" stroke-width="0.9" fill="none"/>
<path d="M947.8 991.6L1067.2 991.6" stroke="#000" stroke-width="1"/>
<path d="M1003 988.6L1003 994.2" stroke="#000" stroke-width="1"/>
<path d="M998 988.6L998 994.2" stroke="#000" stroke-width="1"/>
<path d="M1595.7 378L1595.7 519.7" stroke="#000" stroke-width="1.2"/>
<path d="M1628.6 378L1628.6 519.7" stroke="#000" stroke-width="1.1"/>
<path d="M1595.7 378L1628.6 378" stroke="#000" stroke-width="1.2"/>
<path d="M1595.7 519.7L1628.6 519.7" stroke="#000" stroke-width="1.2"/>
<rect x="1606.7" y="378" width="6.6" height="141.7" stroke="#000" stroke-width="1" fill="none"/>
<path d="M1608.6 384L1608.6 513.7" stroke="#000" stroke-width="0.9"/>
<path d="M1610.3 384L1610.3 513.7" stroke="#000" stroke-width="0.9"/>
<path d="M1606.7 384L1613.3 384" stroke="#000" stroke-width="0.9"/>
<path d="M1606.7 513.7L1613.3 513.7" stroke="#000" stroke-width="0.9"/>
<path d="M1605.6 413.85L1605.6 445.85" stroke="#333" stroke-width="1.3"/>
<path d="M1605.6 451.85L1605.6 483.85" stroke="#333" stroke-width="1.3"/>
<path d="M1595.7 589.8L1595.7 731.6" stroke="#000" stroke-width="1.2"/>
<path d="M1628.6 589.8L1628.6 731.6" stroke="#000" stroke-width="1.1"/>
<path d="M1595.7 589.8L1628.6 589.8" stroke="#000" stroke-width="1.2"/>
<path d="M1595.7 731.6L1628.6 731.6" stroke="#000" stroke-width="1.2"/>
<rect x="1606.7" y="589.8" width="6.6" height="141.8" stroke="#000" stroke-width="1" fill="none"/>
<path d="M1608.6 595.8L1608.6 725.6" stroke="#000" stroke-width="0.9"/>
<path d="M1610.3 595.8L1610.3 725.6" stroke="#000" stroke-width="0.9"/>
<path d="M1606.7 595.8L1613.3 595.8" stroke="#000" stroke-width="0.9"/>
<path d="M1606.7 725.6L1613.3 725.6" stroke="#000" stroke-width="0.9"/>
<path d="M1605.6 625.7L1605.6 657.7" stroke="#333" stroke-width="1.3"/>
<path d="M1605.6 663.7L1605.6 695.7" stroke="#333" stroke-width="1.3"/>
<path d="M1595.7 801.6L1595.7 941.5" stroke="#000" stroke-width="1.2"/>
<path d="M1628.6 801.6L1628.6 941.5" stroke="#000" stroke-width="1.1"/>
<path d="M1595.7 801.6L1628.6 801.6" stroke="#000" stroke-width="1.2"/>
<path d="M1595.7 941.5L1628.6 941.5" stroke="#000" stroke-width="1.2"/>
<rect x="1606.7" y="801.6" width="6.6" height="139.9" stroke="#000" stroke-width="1" fill="none"/>
<path d="M1608.6 807.6L1608.6 935.5" stroke="#000" stroke-width="0.9"/>
<path d="M1610.3 807.6L1610.3 935.5" stroke="#000" stroke-width="0.9"/>
<path d="M1606.7 807.6L1613.3 807.6" stroke="#000" stroke-width="0.9"/>
<path d="M1606.7 935.5L1613.3 935.5" stroke="#000" stroke-width="0.9"/>
<path d="M1605.6 836.55L1605.6 868.55" stroke="#333" stroke-width="1.3"/>
<path d="M1605.6 874.55L1605.6 906.55" stroke="#333" stroke-width="1.3"/>
<path d="M1274.3 977.6L1274.3 1007.4" stroke="#000" stroke-width="2.2"/>
<path d="M1521.2 977.6L1521.2 1007.4" stroke="#000" stroke-width="2.2"/>
<path d="M1274.3 991.2L1521.2 991.2" stroke="#000" stroke-width="1"/>
<path d="M1274.3 994.3L1521.2 994.3" stroke="#000" stroke-width="1"/>
<path d="M1274.3 1007.4L1521.2 1007.4" stroke="#000" stroke-width="1.3"/>
<path d="M1274.3 977.6L1274.3 994.3" stroke="#000" stroke-width="1"/>
<rect x="1274.3" y="986" width="6" height="8.3" stroke="#000" stroke-width="0.9" fill="none"/>
<rect x="1515.2" y="986" width="6" height="8.3" stroke="#000" stroke-width="0.9" fill="none"/>
<rect x="1282.9" y="915.4" width="4.5" height="78.4" stroke="#000" stroke-width="1" fill="none"/>
<path d="M1285.1 915.4L1285.1 993.8" stroke="#000" stroke-width="0.8"/>
<path d="M1287.4 915.4A75 75 0 0 1 1358.7 992" stroke="#000" stroke-width="1" fill="none" stroke-dasharray="17 5"/>
<rect x="1357" y="988" width="3.5" height="6.3" stroke="#000" stroke-width="0.9" fill="none"/>
<path d="M1279.5 994L1279.5 713.6L1515.5 713.6L1515.5 994" stroke="#000" stroke-width="1.1" fill="none" stroke-dasharray="19 6"/>
<path d="M1279.5 994L1515.5 713.6" stroke="#000" stroke-width="1.1" stroke-dasharray="19 6"/>
<path d="M1279.5 713.6L1515.5 994" stroke="#000" stroke-width="1.1" stroke-dasharray="19 6"/>
<path d="M1279.5 987.6L1515.5 987.6" stroke="#666" stroke-width="0.9" stroke-dasharray="40 5"/>
<rect x="397.3" y="250.4" width="8.4" height="60" stroke="#000" stroke-width="1.2" fill="none"/>
<path d="M397.3 257.2L405.7 257.2" stroke="#000" stroke-width="1.2"/>
<path d="M397.3 295.4L405.7 295.4" stroke="#000" stroke-width="1.2"/>
<path d="M397.3 302.4L405.7 302.4" stroke="#000" stroke-width="1.2"/>
<path d="M394 310.4L409 310.4" stroke="#000" stroke-width="1.3"/>
<path d="M401.5 259.4L401.5 288.4" stroke="#666" stroke-width="1"/>
<rect x="1602.3" y="250.4" width="8.4" height="60" stroke="#000" stroke-width="1.2" fill="none"/>
<path d="M1602.3 257.2L1610.7 257.2" stroke="#000" stroke-width="1.2"/>
<path d="M1602.3 295.4L1610.7 295.4" stroke="#000" stroke-width="1.2"/>
<path d="M1602.3 302.4L1610.7 302.4" stroke="#000" stroke-width="1.2"/>
<path d="M1599 310.4L1614 310.4" stroke="#000" stroke-width="1.3"/>
<path d="M1606.5 259.4L1606.5 288.4" stroke="#666" stroke-width="1"/>
<rect x="397.3" y="1010.4" width="8.4" height="59.9" stroke="#000" stroke-width="1.2" fill="none"/>
<path d="M397.3 1063.5L405.7 1063.5" stroke="#000" stroke-width="1.2"/>
<path d="M397.3 1025.4L405.7 1025.4" stroke="#000" stroke-width="1.2"/>
<path d="M397.3 1018.4L405.7 1018.4" stroke="#000" stroke-width="1.2"/>
<path d="M394 1010.4L409 1010.4" stroke="#000" stroke-width="1.3"/>
<path d="M401.5 1061.3L401.5 1032.4" stroke="#666" stroke-width="1"/>
<rect x="1602.3" y="1010.4" width="8.4" height="59.9" stroke="#000" stroke-width="1.2" fill="none"/>
<path d="M1602.3 1063.5L1610.7 1063.5" stroke="#000" stroke-width="1.2"/>
<path d="M1602.3 1025.4L1610.7 1025.4" stroke="#000" stroke-width="1.2"/>
<path d="M1602.3 1018.4L1610.7 1018.4" stroke="#000" stroke-width="1.2"/>
<path d="M1599 1010.4L1614 1010.4" stroke="#000" stroke-width="1.3"/>
<path d="M1606.5 1061.3L1606.5 1032.4" stroke="#666" stroke-width="1"/>
<rect x="1204.5" y="378" width="31.5" height="46.5" rx="1" stroke="#777" stroke-width="1" fill="none"/>
<rect x="1213" y="381" width="20.5" height="40.5" rx="1" stroke="#777" stroke-width="1" fill="none"/>
<rect x="989.3" y="668" width="47.1" height="23" rx="1" stroke="#777" stroke-width="1" fill="none"/>
<rect x="991.5" y="676" width="42.5" height="13" rx="2" stroke="#777" stroke-width="1" fill="none"/>
<path d="M1013 672L1013 681" stroke="#777" stroke-width="1.4"/>
<path d="M1039 668L1039 678" stroke="#777" stroke-width="1"/>
<path d="M1039 678L1112 678" stroke="#777" stroke-width="1"/>
<rect x="1061.2" y="688.2" width="28.8" height="32.7" rx="3" stroke="#777" stroke-width="1" fill="none"/>
<path d="M1061.2 700V710A14.4 11 0 0 0 1090 710V700" stroke="#777" fill="none"/>
<rect x="1112.2" y="668" width="59.3" height="103" rx="1" stroke="#777" stroke-width="1" fill="none"/>
<rect x="1114.5" y="670.5" width="55" height="98" rx="7" stroke="#777" stroke-width="1" fill="none"/>
<circle cx="1160" cy="681.4" r="1.6" stroke="#777" stroke-width="1" fill="none"/>
<path d="M1041.6 722L1041.6 770.5" stroke="#777" stroke-width="1" stroke-dasharray="14 4"/>
<path d="M1041.6 770.5L1112 770.5" stroke="#777" stroke-width="1" stroke-dasharray="14 4"/>
<rect x="809" y="798" width="31" height="48.5" rx="1" stroke="#777" stroke-width="1" fill="none"/>
<rect x="811" y="800.5" width="22.5" height="43.5" rx="2" stroke="#777" stroke-width="1" fill="none"/>
<path d="M828 822.5L838 822.5" stroke="#777" stroke-width="1.6"/>
<rect x="852.5" y="798" width="25.5" height="48.5" rx="1" stroke="#777" stroke-width="1" fill="none"/>
<rect x="859" y="800.5" width="17" height="43.5" rx="2" stroke="#777" stroke-width="1" fill="none"/>
<path d="M854 822.5L864 822.5" stroke="#777" stroke-width="1.6"/>
<rect x="852.5" y="849" width="31.5" height="47" rx="1" stroke="#777" stroke-width="1" fill="none"/>
<rect x="859" y="851.5" width="22.5" height="42" rx="2" stroke="#777" stroke-width="1" fill="none"/>
<path d="M854 873L864 873" stroke="#777" stroke-width="1.6"/>
<circle cx="982.8" cy="672.6" r="4" stroke="#000" stroke-width="1" fill="#fff"/>
<circle cx="1106.1" cy="672.6" r="4" stroke="#000" stroke-width="1" fill="#fff"/>
<circle cx="835.7" cy="789.4" r="4" stroke="#000" stroke-width="1" fill="#fff"/>
<circle cx="857.4" cy="789.4" r="4" stroke="#000" stroke-width="1" fill="#fff"/>
<path d="M835.7 793.4L835.7 1206.9" stroke="#000" stroke-width="1"/>
<path d="M857.4 793.4L857.4 1206.9" stroke="#000" stroke-width="1"/>
<path d="M982.8 676.6L982.8 1248.5" stroke="#000" stroke-width="1"/>
<path d="M1106.1 676.6L1106.1 1290.5" stroke="#000" stroke-width="1"/>
<circle cx="1124.9" cy="392.1" r="9.9" stroke="#000" stroke-width="1" fill="#000"/>
<path d="M1124.4 392L1124.4 269.6L1228.3 269.6" stroke="#000" stroke-width="1" fill="none"/>
<path d="M1105.3 342.7L1105.3 245.5L1228.3 245.5" stroke="#000" stroke-width="1" fill="none"/>
<path d="M1165.2 901.5L1165.2 1249.4" stroke="#000" stroke-width="1"/>
<path d="M1165.2 1249.4L1803.7 1249.4" stroke="#000" stroke-width="1"/>
<path d="M1168.2 922.8L1808 922.8" stroke="#000" stroke-width="1"/>
<circle cx="1165.2" cy="914.2" r="3.4" stroke="#000" stroke-width="1" fill="#000"/>
<path d="M1168.2 914.2L1171.7 914.2L1171.7 917.7" stroke="#000" stroke-width="1" fill="none"/>
<circle cx="1165.2" cy="939.9" r="3.4" stroke="#000" stroke-width="1" fill="#000"/>
<path d="M1168.2 939.9L1171.7 939.9L1171.7 943.4" stroke="#000" stroke-width="1" fill="none"/>
<circle cx="1165.2" cy="963.6" r="3.4" stroke="#000" stroke-width="1" fill="#000"/>
<path d="M1168.2 963.6L1171.7 963.6L1171.7 967.1" stroke="#000" stroke-width="1" fill="none"/>
<ellipse cx="1165.2" cy="927.1" rx="3.8" ry="7" stroke="#000" fill="#fff"/>
<circle cx="1164.4" cy="951.2" r="6" stroke="#000" stroke-width="1" fill="#fff"/>
<path d="M1164.4 945.2A6 6 0 0 1 1168.7 955.6L1160.4 946.2Z" fill="#000"/>
<path d="M1155 941.5L1172.2 958.6" stroke="#000" stroke-width="1.2"/>
<circle cx="1165.2" cy="973.3" r="1.5" stroke="#000" stroke-width="1" fill="#000"/>
<path d="M1236.7 1009L1236.7 1014L1234 1016L1239 1018.5L1234 1021L1237 1023.5" stroke="#000" stroke-width="1" fill="none"/>
<path d="M1233 1012.5L1240 1012.5" stroke="#000" stroke-width="1"/>
<text transform="translate(1228 400) rotate(-90) scale(0.82 1)" font-size="14.3" text-anchor="middle">150</text>
<path d="M1208 401L1214 401" stroke="#777" stroke-width="1.6"/>
<circle cx="401.5" cy="98.2" r="12" stroke="#000" stroke-width="1" fill="#fff"/>
<circle cx="401.5" cy="1222.4" r="12" stroke="#000" stroke-width="1" fill="#fff"/>
<circle cx="1189.2" cy="98.2" r="12" stroke="#000" stroke-width="1" fill="#fff"/>
<circle cx="1189.2" cy="1222.4" r="12" stroke="#000" stroke-width="1" fill="#fff"/>
<circle cx="1606.4" cy="98.2" r="12" stroke="#000" stroke-width="1" fill="#fff"/>
<circle cx="1606.4" cy="1222.4" r="12" stroke="#000" stroke-width="1" fill="#fff"/>
<path d="M401.5 110.2L401.5 1210.4" stroke="#606060" stroke-width="0.85" stroke-dasharray="27 13 1.2 11.8"/>
<path d="M1189.2 110.2L1189.2 1210.4" stroke="#606060" stroke-width="0.85" stroke-dasharray="27 13 1.2 11.8"/>
<path d="M1606.4 110.2L1606.4 1210.4" stroke="#606060" stroke-width="0.85" stroke-dasharray="27 13 1.2 11.8"/>
<circle cx="166.6" cy="987.5" r="12" stroke="#000" stroke-width="1" fill="#fff"/>
<circle cx="1841.1" cy="987.5" r="12" stroke="#000" stroke-width="1" fill="#fff"/>
<path d="M178.6 987.5L1829.1 987.5" stroke="#606060" stroke-width="0.85" stroke-dasharray="27 13 1.2 11.8"/>
<circle cx="166.6" cy="332.5" r="12" stroke="#000" stroke-width="1" fill="#fff"/>
<circle cx="1841.1" cy="332.5" r="12" stroke="#000" stroke-width="1" fill="#fff"/>
<path d="M178.6 332.5L1829.1 332.5" stroke="#606060" stroke-width="0.85" stroke-dasharray="27 13 1.2 11.8"/>
<text transform="translate(401.5 103.6) scale(0.82 1)" font-size="15" text-anchor="middle">1</text>
<text transform="translate(401.5 1227.8) scale(0.82 1)" font-size="15" text-anchor="middle">1</text>
<text transform="translate(1189.2 103.6) scale(0.82 1)" font-size="15" text-anchor="middle">2</text>
<text transform="translate(1189.2 1227.8) scale(0.82 1)" font-size="15" text-anchor="middle">2</text>
<text transform="translate(1606.4 103.6) scale(0.82 1)" font-size="15" text-anchor="middle">3</text>
<text transform="translate(1606.4 1227.8) scale(0.82 1)" font-size="15" text-anchor="middle">3</text>
<text transform="translate(166.6 992.9) scale(0.82 1)" font-size="15" text-anchor="middle">A</text>
<text transform="translate(1841.1 992.9) scale(0.82 1)" font-size="15" text-anchor="middle">A</text>
<text transform="translate(166.6 337.9) scale(0.82 1)" font-size="15" text-anchor="middle">B</text>
<text transform="translate(1841.1 337.9) scale(0.82 1)" font-size="15" text-anchor="middle">B</text>
<path d="M588.5 109L588.5 1210.1" stroke="#000" stroke-width="1.3" stroke-dasharray="19 6"/>
<path d="M587.8 109L611.6 109" stroke="#000" stroke-width="1.2"/>
<path d="M587.8 1210.1L611.6 1210.1" stroke="#000" stroke-width="1.2"/>
<text transform="translate(608.4 122.7) rotate(-90) scale(0.82 1)" font-size="15" text-anchor="middle">B</text>
<text transform="translate(608.4 1197.6) rotate(-90) scale(0.82 1)" font-size="15" text-anchor="middle">B</text>
<path d="M1336.7 109L1336.7 1210.1" stroke="#000" stroke-width="1.3" stroke-dasharray="19 6"/>
<path d="M1336 109L1359.8 109" stroke="#000" stroke-width="1.2"/>
<path d="M1336 1210.1L1359.8 1210.1" stroke="#000" stroke-width="1.2"/>
<text transform="translate(1356.6 122.7) rotate(-90) scale(0.82 1)" font-size="15" text-anchor="middle">C</text>
<text transform="translate(1356.6 1197.6) rotate(-90) scale(0.82 1)" font-size="15" text-anchor="middle">C</text>
<path d="M178.4 884.4L1829.5 884.4" stroke="#000" stroke-width="1.3" stroke-dasharray="19 6"/>
<path d="M178.4 860.5L178.4 884.6" stroke="#000" stroke-width="1.2"/>
<path d="M1829.5 860.5L1829.5 884.6" stroke="#000" stroke-width="1.2"/>
<path d="M1812 884.4L1829.5 884.4" stroke="#000" stroke-width="1.3"/>
<text transform="translate(190.9 875) scale(0.82 1)" font-size="15" text-anchor="middle">A</text>
<text transform="translate(1816.8 875) scale(0.82 1)" font-size="15" text-anchor="middle">A</text>
<path d="M376.4 161.4L1583 161.4" stroke="#000" stroke-width="1"/>
<path d="M377.1 165.7L385.7 157.1" stroke="#000" stroke-width="1"/>
<path d="M381.4 153.1L381.4 168.4" stroke="#000" stroke-width="1"/>
<path d="M1573.7 165.7L1582.3 157.1" stroke="#000" stroke-width="1"/>
<path d="M1578 153.1L1578 168.4" stroke="#000" stroke-width="1"/>
<text transform="translate(980 159) scale(0.82 1)" font-size="14.3" text-anchor="middle">1 519</text>
<path d="M376.4 184.6L1611.4 184.6" stroke="#000" stroke-width="1"/>
<path d="M377.1 188.9L385.7 180.3" stroke="#000" stroke-width="1"/>
<path d="M381.4 176.3L381.4 191.6" stroke="#000" stroke-width="1"/>
<path d="M397.2 188.9L405.8 180.3" stroke="#000" stroke-width="1"/>
<path d="M401.5 176.3L401.5 191.6" stroke="#000" stroke-width="1"/>
<path d="M1184.9 188.9L1193.5 180.3" stroke="#000" stroke-width="1"/>
<path d="M1189.2 176.3L1189.2 191.6" stroke="#000" stroke-width="1"/>
<path d="M1573.7 188.9L1582.3 180.3" stroke="#000" stroke-width="1"/>
<path d="M1578 176.3L1578 191.6" stroke="#000" stroke-width="1"/>
<path d="M1602.1 188.9L1610.7 180.3" stroke="#000" stroke-width="1"/>
<path d="M1606.4 176.3L1606.4 191.6" stroke="#000" stroke-width="1"/>
<text transform="translate(371 182.2) scale(0.82 1)" font-size="14.3" text-anchor="middle">25</text>
<text transform="translate(795.6 182.2) scale(0.82 1)" font-size="14.3" text-anchor="middle">1 000</text>
<text transform="translate(1383.4 182.2) scale(0.82 1)" font-size="14.3" text-anchor="middle">494</text>
<text transform="translate(1592 182.2) scale(0.82 1)" font-size="14.3" text-anchor="middle">36</text>
<path d="M376.4 208.4L1583 208.4" stroke="#000" stroke-width="1"/>
<path d="M377.1 212.7L385.7 204.1" stroke="#000" stroke-width="1"/>
<path d="M381.4 200.1L381.4 215.4" stroke="#000" stroke-width="1"/>
<path d="M406.7 212.7L415.3 204.1" stroke="#000" stroke-width="1"/>
<path d="M411 200.1L411 215.4" stroke="#000" stroke-width="1"/>
<path d="M1175.1 212.7L1183.7 204.1" stroke="#000" stroke-width="1"/>
<path d="M1179.4 200.1L1179.4 215.4" stroke="#000" stroke-width="1"/>
<path d="M1194 212.7L1202.6 204.1" stroke="#000" stroke-width="1"/>
<path d="M1198.3 200.1L1198.3 215.4" stroke="#000" stroke-width="1"/>
<path d="M1573.7 212.7L1582.3 204.1" stroke="#000" stroke-width="1"/>
<path d="M1578 200.1L1578 215.4" stroke="#000" stroke-width="1"/>
<text transform="translate(396.6 206) scale(0.82 1)" font-size="14.3" text-anchor="middle">37</text>
<text transform="translate(788.8 206) scale(0.82 1)" font-size="14.3" text-anchor="middle">976</text>
<text transform="translate(1169.3 206) scale(0.82 1)" font-size="14.3" text-anchor="middle">24</text>
<text transform="translate(1388 206) scale(0.82 1)" font-size="14.3" text-anchor="middle">482</text>
<path d="M425.5 1112.7L1583.2 1112.7" stroke="#000" stroke-width="1"/>
<path d="M426.2 1117L434.8 1108.4" stroke="#000" stroke-width="1"/>
<path d="M430.5 1104.4L430.5 1119.7" stroke="#000" stroke-width="1"/>
<path d="M479.8 1117L488.4 1108.4" stroke="#000" stroke-width="1"/>
<path d="M484.1 1104.4L484.1 1119.7" stroke="#000" stroke-width="1"/>
<path d="M603.4 1117L612 1108.4" stroke="#000" stroke-width="1"/>
<path d="M607.7 1104.4L607.7 1119.7" stroke="#000" stroke-width="1"/>
<path d="M664.9 1117L673.5 1108.4" stroke="#000" stroke-width="1"/>
<path d="M669.2 1104.4L669.2 1119.7" stroke="#000" stroke-width="1"/>
<path d="M788.3 1117L796.9 1108.4" stroke="#000" stroke-width="1"/>
<path d="M792.6 1104.4L792.6 1119.7" stroke="#000" stroke-width="1"/>
<path d="M850.5 1117L859.1 1108.4" stroke="#000" stroke-width="1"/>
<path d="M854.8 1104.4L854.8 1119.7" stroke="#000" stroke-width="1"/>
<path d="M975.1 1117L983.7 1108.4" stroke="#000" stroke-width="1"/>
<path d="M979.4 1104.4L979.4 1119.7" stroke="#000" stroke-width="1"/>
<path d="M1034.7 1117L1043.3 1108.4" stroke="#000" stroke-width="1"/>
<path d="M1039 1104.4L1039 1119.7" stroke="#000" stroke-width="1"/>
<path d="M1159.2 1117L1167.8 1108.4" stroke="#000" stroke-width="1"/>
<path d="M1163.5 1104.4L1163.5 1119.7" stroke="#000" stroke-width="1"/>
<path d="M1278.6 1117L1287.2 1108.4" stroke="#000" stroke-width="1"/>
<path d="M1282.9 1104.4L1282.9 1119.7" stroke="#000" stroke-width="1"/>
<path d="M1508 1117L1516.6 1108.4" stroke="#000" stroke-width="1"/>
<path d="M1512.3 1104.4L1512.3 1119.7" stroke="#000" stroke-width="1"/>
<path d="M1573.9 1117L1582.5 1108.4" stroke="#000" stroke-width="1"/>
<path d="M1578.2 1104.4L1578.2 1119.7" stroke="#000" stroke-width="1"/>
<text transform="translate(456.7 1110.3) scale(0.82 1)" font-size="14.3" text-anchor="middle">69</text>
<text transform="translate(546.3 1110.3) scale(0.82 1)" font-size="14.3" text-anchor="middle">157</text>
<text transform="translate(638.7 1110.3) scale(0.82 1)" font-size="14.3" text-anchor="middle">78</text>
<text transform="translate(731.4 1110.3) scale(0.82 1)" font-size="14.3" text-anchor="middle">157</text>
<text transform="translate(823.9 1110.3) scale(0.82 1)" font-size="14.3" text-anchor="middle">78</text>
<text transform="translate(916.7 1110.3) scale(0.82 1)" font-size="14.3" text-anchor="middle">157</text>
<text transform="translate(1008.9 1110.3) scale(0.82 1)" font-size="14.3" text-anchor="middle">78</text>
<text transform="translate(1101.2 1110.3) scale(0.82 1)" font-size="14.3" text-anchor="middle">157</text>
<text transform="translate(1223.3 1110.3) scale(0.82 1)" font-size="14.3" text-anchor="middle">152</text>
<text transform="translate(1397.9 1110.3) scale(0.82 1)" font-size="14.3" text-anchor="middle">292</text>
<text transform="translate(1545 1110.3) scale(0.82 1)" font-size="14.3" text-anchor="middle">83</text>
<path d="M425.5 1135.7L1583.2 1135.7" stroke="#000" stroke-width="1"/>
<path d="M426.2 1140L434.8 1131.4" stroke="#000" stroke-width="1"/>
<path d="M430.5 1127.4L430.5 1142.7" stroke="#000" stroke-width="1"/>
<path d="M476.9 1140L485.5 1131.4" stroke="#000" stroke-width="1"/>
<path d="M481.2 1127.4L481.2 1142.7" stroke="#000" stroke-width="1"/>
<path d="M606.5 1140L615.1 1131.4" stroke="#000" stroke-width="1"/>
<path d="M610.8 1127.4L610.8 1142.7" stroke="#000" stroke-width="1"/>
<path d="M707.3 1140L715.9 1131.4" stroke="#000" stroke-width="1"/>
<path d="M711.6 1127.4L711.6 1142.7" stroke="#000" stroke-width="1"/>
<path d="M836.6 1140L845.2 1131.4" stroke="#000" stroke-width="1"/>
<path d="M840.9 1127.4L840.9 1142.7" stroke="#000" stroke-width="1"/>
<path d="M938.5 1140L947.1 1131.4" stroke="#000" stroke-width="1"/>
<path d="M942.8 1127.4L942.8 1142.7" stroke="#000" stroke-width="1"/>
<path d="M1067.9 1140L1076.5 1131.4" stroke="#000" stroke-width="1"/>
<path d="M1072.2 1127.4L1072.2 1142.7" stroke="#000" stroke-width="1"/>
<path d="M1175 1140L1183.6 1131.4" stroke="#000" stroke-width="1"/>
<path d="M1179.3 1127.4L1179.3 1142.7" stroke="#000" stroke-width="1"/>
<path d="M1194.1 1140L1202.7 1131.4" stroke="#000" stroke-width="1"/>
<path d="M1198.4 1127.4L1198.4 1142.7" stroke="#000" stroke-width="1"/>
<path d="M1268.9 1140L1277.5 1131.4" stroke="#000" stroke-width="1"/>
<path d="M1273.2 1127.4L1273.2 1142.7" stroke="#000" stroke-width="1"/>
<path d="M1517.7 1140L1526.3 1131.4" stroke="#000" stroke-width="1"/>
<path d="M1522 1127.4L1522 1142.7" stroke="#000" stroke-width="1"/>
<path d="M1573.9 1140L1582.5 1131.4" stroke="#000" stroke-width="1"/>
<path d="M1578.2 1127.4L1578.2 1142.7" stroke="#000" stroke-width="1"/>
<text transform="translate(455.4 1133.3) scale(0.82 1)" font-size="14.3" text-anchor="middle">65</text>
<text transform="translate(546.3 1133.3) scale(0.82 1)" font-size="14.3" text-anchor="middle">165</text>
<text transform="translate(661.9 1133.3) scale(0.82 1)" font-size="14.3" text-anchor="middle">128</text>
<text transform="translate(777.2 1133.3) scale(0.82 1)" font-size="14.3" text-anchor="middle">165</text>
<text transform="translate(892.7 1133.3) scale(0.82 1)" font-size="14.3" text-anchor="middle">128</text>
<text transform="translate(1007.6 1133.3) scale(0.82 1)" font-size="14.3" text-anchor="middle">165</text>
<text transform="translate(1120 1133.3) scale(0.82 1)" font-size="14.3" text-anchor="middle">136</text>
<text transform="translate(1169.2 1133.3) scale(0.82 1)" font-size="14.3" text-anchor="middle">24</text>
<text transform="translate(1235.9 1133.3) scale(0.82 1)" font-size="14.3" text-anchor="middle">95</text>
<text transform="translate(1397.9 1133.3) scale(0.82 1)" font-size="14.3" text-anchor="middle">316</text>
<text transform="translate(1549.4 1133.3) scale(0.82 1)" font-size="14.3" text-anchor="middle">71</text>
<path d="M396.3 1159.7L1611.9 1159.7" stroke="#000" stroke-width="1"/>
<path d="M397 1164L405.6 1155.4" stroke="#000" stroke-width="1"/>
<path d="M401.3 1151.4L401.3 1166.7" stroke="#000" stroke-width="1"/>
<path d="M426.2 1164L434.8 1155.4" stroke="#000" stroke-width="1"/>
<path d="M430.5 1151.4L430.5 1166.7" stroke="#000" stroke-width="1"/>
<path d="M1184.9 1164L1193.5 1155.4" stroke="#000" stroke-width="1"/>
<path d="M1189.2 1151.4L1189.2 1166.7" stroke="#000" stroke-width="1"/>
<path d="M1573.9 1164L1582.5 1155.4" stroke="#000" stroke-width="1"/>
<path d="M1578.2 1151.4L1578.2 1166.7" stroke="#000" stroke-width="1"/>
<path d="M1602.6 1164L1611.2 1155.4" stroke="#000" stroke-width="1"/>
<path d="M1606.9 1151.4L1606.9 1166.7" stroke="#000" stroke-width="1"/>
<text transform="translate(415.7 1157.3) scale(0.82 1)" font-size="14.3" text-anchor="middle">36</text>
<text transform="translate(809 1157.3) scale(0.82 1)" font-size="14.3" text-anchor="middle">964</text>
<text transform="translate(1383.5 1157.3) scale(0.82 1)" font-size="14.3" text-anchor="middle">494</text>
<text transform="translate(1592.6 1157.3) scale(0.82 1)" font-size="14.3" text-anchor="middle">36</text>
<path d="M425.5 1183.2L1583.2 1183.2" stroke="#000" stroke-width="1"/>
<path d="M426.2 1187.5L434.8 1178.9" stroke="#000" stroke-width="1"/>
<path d="M430.5 1174.9L430.5 1190.2" stroke="#000" stroke-width="1"/>
<path d="M1573.9 1187.5L1582.5 1178.9" stroke="#000" stroke-width="1"/>
<path d="M1578.2 1174.9L1578.2 1190.2" stroke="#000" stroke-width="1"/>
<text transform="translate(1003.7 1180.8) scale(0.82 1)" font-size="14.3" text-anchor="middle">1 458</text>
<path d="M230.1 308.5L230.1 1012.3" stroke="#000" stroke-width="1"/>
<path d="M225.8 309.2L234.4 317.8" stroke="#000" stroke-width="1"/>
<path d="M222.9 313.5L238.4 313.5" stroke="#000" stroke-width="1"/>
<path d="M225.8 1003L234.4 1011.6" stroke="#000" stroke-width="1"/>
<path d="M222.9 1007.3L238.4 1007.3" stroke="#000" stroke-width="1"/>
<text transform="translate(227.7 660.3) rotate(-90) scale(0.82 1)" font-size="14.3" text-anchor="middle">882</text>
<path d="M253.4 308.5L253.4 1012.3" stroke="#000" stroke-width="1"/>
<path d="M249.1 309.2L257.7 317.8" stroke="#000" stroke-width="1"/>
<path d="M246.2 313.5L261.7 313.5" stroke="#000" stroke-width="1"/>
<path d="M249.1 328.2L257.7 336.8" stroke="#000" stroke-width="1"/>
<path d="M246.2 332.5L261.7 332.5" stroke="#000" stroke-width="1"/>
<path d="M249.1 982.2L257.7 990.8" stroke="#000" stroke-width="1"/>
<path d="M246.2 986.5L261.7 986.5" stroke="#000" stroke-width="1"/>
<path d="M249.1 1003L257.7 1011.6" stroke="#000" stroke-width="1"/>
<path d="M246.2 1007.3L261.7 1007.3" stroke="#000" stroke-width="1"/>
<text transform="translate(251.9 341.7) rotate(-90) scale(0.82 1)" font-size="14.3" text-anchor="middle">25</text>
<text transform="translate(251 666.5) rotate(-90) scale(0.82 1)" font-size="14.3" text-anchor="middle">832</text>
<text transform="translate(251.9 1017.8) rotate(-90) scale(0.82 1)" font-size="14.3" text-anchor="middle">25</text>
<path d="M277.7 308.5L277.7 1012.3" stroke="#000" stroke-width="1"/>
<path d="M273.4 309.2L282 317.8" stroke="#000" stroke-width="1"/>
<path d="M270.5 313.5L286 313.5" stroke="#000" stroke-width="1"/>
<path d="M273.4 318.9L282 327.5" stroke="#000" stroke-width="1"/>
<path d="M270.5 323.2L286 323.2" stroke="#000" stroke-width="1"/>
<path d="M273.4 338.4L282 347" stroke="#000" stroke-width="1"/>
<path d="M270.5 342.7L286 342.7" stroke="#000" stroke-width="1"/>
<path d="M273.4 357.1L282 365.7" stroke="#000" stroke-width="1"/>
<path d="M270.5 361.4L286 361.4" stroke="#000" stroke-width="1"/>
<path d="M273.4 955L282 963.6" stroke="#000" stroke-width="1"/>
<path d="M270.5 959.3L286 959.3" stroke="#000" stroke-width="1"/>
<path d="M273.4 973.8L282 982.4" stroke="#000" stroke-width="1"/>
<path d="M270.5 978.1L286 978.1" stroke="#000" stroke-width="1"/>
<path d="M273.4 993.4L282 1002" stroke="#000" stroke-width="1"/>
<path d="M270.5 997.7L286 997.7" stroke="#000" stroke-width="1"/>
<path d="M273.4 1003L282 1011.6" stroke="#000" stroke-width="1"/>
<path d="M270.5 1007.3L286 1007.3" stroke="#000" stroke-width="1"/>
<text transform="translate(275.3 301.7) rotate(-90) scale(0.82 1)" font-size="14.3" text-anchor="middle">13</text>
<text transform="translate(265 331.2) rotate(-90) scale(0.82 1)" font-size="14.3" text-anchor="middle">24</text>
<text transform="translate(265 353.2) rotate(-90) scale(0.82 1)" font-size="14.3" text-anchor="middle">24</text>
<text transform="translate(275.3 653.2) rotate(-90) scale(0.82 1)" font-size="14.3" text-anchor="middle">760</text>
<text transform="translate(275.3 948.6) rotate(-90) scale(0.82 1)" font-size="14.3" text-anchor="middle">24</text>
<text transform="translate(265.7 985.1) rotate(-90) scale(0.82 1)" font-size="14.3" text-anchor="middle">24</text>
<text transform="translate(265.7 1006.8) rotate(-90) scale(0.82 1)" font-size="14.3" text-anchor="middle">13</text>
<path d="M1730.4 308.4L1730.4 1012.1" stroke="#000" stroke-width="1"/>
<path d="M1726.1 309.1L1734.7 317.7" stroke="#000" stroke-width="1"/>
<path d="M1723.2 313.4L1738.7 313.4" stroke="#000" stroke-width="1"/>
<path d="M1726.1 376.3L1734.7 384.9" stroke="#000" stroke-width="1"/>
<path d="M1723.2 380.6L1738.7 380.6" stroke="#000" stroke-width="1"/>
<path d="M1726.1 511.9L1734.7 520.5" stroke="#000" stroke-width="1"/>
<path d="M1723.2 516.2L1738.7 516.2" stroke="#000" stroke-width="1"/>
<path d="M1726.1 588.7L1734.7 597.3" stroke="#000" stroke-width="1"/>
<path d="M1723.2 593L1738.7 593" stroke="#000" stroke-width="1"/>
<path d="M1726.1 724.1L1734.7 732.7" stroke="#000" stroke-width="1"/>
<path d="M1723.2 728.4L1738.7 728.4" stroke="#000" stroke-width="1"/>
<path d="M1726.1 800.5L1734.7 809.1" stroke="#000" stroke-width="1"/>
<path d="M1723.2 804.8L1738.7 804.8" stroke="#000" stroke-width="1"/>
<path d="M1726.1 935.1L1734.7 943.7" stroke="#000" stroke-width="1"/>
<path d="M1723.2 939.4L1738.7 939.4" stroke="#000" stroke-width="1"/>
<path d="M1726.1 1002.8L1734.7 1011.4" stroke="#000" stroke-width="1"/>
<path d="M1723.2 1007.1L1738.7 1007.1" stroke="#000" stroke-width="1"/>
<text transform="translate(1728 347) rotate(-90) scale(0.82 1)" font-size="14.3" text-anchor="middle">86</text>
<text transform="translate(1728 447.9) rotate(-90) scale(0.82 1)" font-size="14.3" text-anchor="middle">172</text>
<text transform="translate(1728 554.6) rotate(-90) scale(0.82 1)" font-size="14.3" text-anchor="middle">97</text>
<text transform="translate(1728 660.7) rotate(-90) scale(0.82 1)" font-size="14.3" text-anchor="middle">172</text>
<text transform="translate(1728 766.6) rotate(-90) scale(0.82 1)" font-size="14.3" text-anchor="middle">97</text>
<text transform="translate(1728 871) rotate(-90) scale(0.82 1)" font-size="14.3" text-anchor="middle">172</text>
<text transform="translate(1728 973.7) rotate(-90) scale(0.82 1)" font-size="14.3" text-anchor="middle">86</text>
<path d="M1754.5 308.4L1754.5 1012.1" stroke="#000" stroke-width="1"/>
<path d="M1750.2 309.1L1758.8 317.7" stroke="#000" stroke-width="1"/>
<path d="M1747.3 313.4L1762.8 313.4" stroke="#000" stroke-width="1"/>
<path d="M1750.2 318.4L1758.8 327" stroke="#000" stroke-width="1"/>
<path d="M1747.3 322.7L1762.8 322.7" stroke="#000" stroke-width="1"/>
<path d="M1750.2 337.9L1758.8 346.5" stroke="#000" stroke-width="1"/>
<path d="M1747.3 342.2L1762.8 342.2" stroke="#000" stroke-width="1"/>
<path d="M1750.2 372.7L1758.8 381.3" stroke="#000" stroke-width="1"/>
<path d="M1747.3 377L1762.8 377" stroke="#000" stroke-width="1"/>
<path d="M1750.2 797.3L1758.8 805.9" stroke="#000" stroke-width="1"/>
<path d="M1747.3 801.6L1762.8 801.6" stroke="#000" stroke-width="1"/>
<path d="M1750.2 937.9L1758.8 946.5" stroke="#000" stroke-width="1"/>
<path d="M1747.3 942.2L1762.8 942.2" stroke="#000" stroke-width="1"/>
<path d="M1750.2 973.8L1758.8 982.4" stroke="#000" stroke-width="1"/>
<path d="M1747.3 978.1L1762.8 978.1" stroke="#000" stroke-width="1"/>
<path d="M1750.2 993.1L1758.8 1001.7" stroke="#000" stroke-width="1"/>
<path d="M1747.3 997.4L1762.8 997.4" stroke="#000" stroke-width="1"/>
<path d="M1750.2 1002.8L1758.8 1011.4" stroke="#000" stroke-width="1"/>
<path d="M1747.3 1007.1L1762.8 1007.1" stroke="#000" stroke-width="1"/>
<text transform="translate(1752.1 302) rotate(-90) scale(0.82 1)" font-size="14.3" text-anchor="middle">13</text>
<text transform="translate(1741 332.8) rotate(-90) scale(0.82 1)" font-size="14.3" text-anchor="middle">24</text>
<text transform="translate(1752.1 360.2) rotate(-90) scale(0.82 1)" font-size="14.3" text-anchor="middle">45</text>
<text transform="translate(1752.1 589) rotate(-90) scale(0.82 1)" font-size="14.3" text-anchor="middle">538</text>
<text transform="translate(1752.1 871) rotate(-90) scale(0.82 1)" font-size="14.3" text-anchor="middle">180</text>
<text transform="translate(1752.1 960.7) rotate(-90) scale(0.82 1)" font-size="14.3" text-anchor="middle">45</text>
<text transform="translate(1741.5 985.3) rotate(-90) scale(0.82 1)" font-size="14.3" text-anchor="middle">24</text>
<text transform="translate(1741.5 1007.3) rotate(-90) scale(0.82 1)" font-size="14.3" text-anchor="middle">13</text>
<path d="M1778.3 308.4L1778.3 1012.1" stroke="#000" stroke-width="1"/>
<path d="M1774 309.1L1782.6 317.7" stroke="#000" stroke-width="1"/>
<path d="M1771.1 313.4L1786.6 313.4" stroke="#000" stroke-width="1"/>
<path d="M1774 328.1L1782.6 336.7" stroke="#000" stroke-width="1"/>
<path d="M1771.1 332.4L1786.6 332.4" stroke="#000" stroke-width="1"/>
<path d="M1774 983L1782.6 991.6" stroke="#000" stroke-width="1"/>
<path d="M1771.1 987.3L1786.6 987.3" stroke="#000" stroke-width="1"/>
<path d="M1774 1002.8L1782.6 1011.4" stroke="#000" stroke-width="1"/>
<path d="M1771.1 1007.1L1786.6 1007.1" stroke="#000" stroke-width="1"/>
<text transform="translate(1775.9 342.7) rotate(-90) scale(0.82 1)" font-size="14.3" text-anchor="middle">25</text>
<text transform="translate(1775.9 666) rotate(-90) scale(0.82 1)" font-size="14.3" text-anchor="middle">832</text>
<text transform="translate(1775.9 1017.5) rotate(-90) scale(0.82 1)" font-size="14.3" text-anchor="middle">25</text>
<path d="M1801.5 308.4L1801.5 1012.1" stroke="#000" stroke-width="1"/>
<path d="M1797.2 309.1L1805.8 317.7" stroke="#000" stroke-width="1"/>
<path d="M1794.3 313.4L1809.8 313.4" stroke="#000" stroke-width="1"/>
<path d="M1797.2 1002.8L1805.8 1011.4" stroke="#000" stroke-width="1"/>
<path d="M1794.3 1007.1L1809.8 1007.1" stroke="#000" stroke-width="1"/>
<text transform="translate(1799.1 660) rotate(-90) scale(0.82 1)" font-size="14.3" text-anchor="middle">882</text>
<path d="M411.7 453.1L1595.7 453.1" stroke="#000" stroke-width="1"/>
<path d="M407.4 457.4L416 448.8" stroke="#000" stroke-width="1"/>
<path d="M566 457.4L574.6 448.8" stroke="#000" stroke-width="1"/>
<path d="M576.5 457.4L585.1 448.8" stroke="#000" stroke-width="1"/>
<path d="M1170.5 457.4L1179.1 448.8" stroke="#000" stroke-width="1"/>
<path d="M1199.7 457.4L1208.3 448.8" stroke="#000" stroke-width="1"/>
<path d="M1591.4 457.4L1600 448.8" stroke="#000" stroke-width="1"/>
<text transform="translate(482.5 450.7) scale(0.82 1)" font-size="14.3" text-anchor="middle">203</text>
<text transform="translate(560.5 450.7) scale(0.82 1)" font-size="14.3" text-anchor="middle">12</text>
<text transform="translate(877.8 450.7) scale(0.82 1)" font-size="14.3" text-anchor="middle">755</text>
<text transform="translate(1400 450.7) scale(0.82 1)" font-size="14.3" text-anchor="middle">500</text>
<text transform="translate(1189.3 450.7) scale(0.82 1)" font-size="14.3" text-anchor="middle">36</text>
<path d="M411.7 477.4L570.3 477.4" stroke="#000" stroke-width="1"/>
<path d="M407.4 481.7L416 473.1" stroke="#000" stroke-width="1"/>
<path d="M411.7 469.1L411.7 484.4" stroke="#000" stroke-width="1"/>
<path d="M414 481.7L422.6 473.1" stroke="#000" stroke-width="1"/>
<path d="M418.3 469.1L418.3 484.4" stroke="#000" stroke-width="1"/>
<path d="M493.1 481.7L501.7 473.1" stroke="#000" stroke-width="1"/>
<path d="M497.4 469.1L497.4 484.4" stroke="#000" stroke-width="1"/>
<path d="M566 481.7L574.6 473.1" stroke="#000" stroke-width="1"/>
<path d="M570.3 469.1L570.3 484.4" stroke="#000" stroke-width="1"/>
<text transform="translate(400.5 475) scale(0.82 1)" font-size="14.3" text-anchor="middle">10</text>
<text transform="translate(458 475) scale(0.82 1)" font-size="14.3" text-anchor="middle">100</text>
<text transform="translate(533.5 475) scale(0.82 1)" font-size="14.3" text-anchor="middle">93</text>
<path d="M547.6 342.7L547.6 977.6" stroke="#000" stroke-width="1"/>
<path d="M543.3 338.4L551.9 347" stroke="#000" stroke-width="1"/>
<path d="M543.3 498.2L551.9 506.8" stroke="#000" stroke-width="1"/>
<path d="M543.3 507.6L551.9 516.2" stroke="#000" stroke-width="1"/>
<path d="M543.3 973.3L551.9 981.9" stroke="#000" stroke-width="1"/>
<text transform="translate(545.2 422) rotate(-90) scale(0.82 1)" font-size="14.3" text-anchor="middle">203</text>
<text transform="translate(545.2 521) rotate(-90) scale(0.82 1)" font-size="14.3" text-anchor="middle">12</text>
<text transform="translate(545.2 751.5) rotate(-90) scale(0.82 1)" font-size="14.3" text-anchor="middle">593</text>
<path d="M458.2 485L458.2 552.4" stroke="#000" stroke-width="1"/>
<text transform="translate(454.2 514) rotate(-90) scale(0.82 1)" font-size="14.3" text-anchor="middle">90</text>
<text transform="translate(474.6 510.6) rotate(-90) scale(0.82 1)" font-size="14.3" text-anchor="middle">200</text>
<path d="M851.6 698.7L1173.6 698.7" stroke="#000" stroke-width="1"/>
<path d="M847.3 703L855.9 694.4" stroke="#000" stroke-width="1"/>
<path d="M851.6 690.4L851.6 705.7" stroke="#000" stroke-width="1"/>
<path d="M879.7 703L888.3 694.4" stroke="#000" stroke-width="1"/>
<path d="M884 690.4L884 705.7" stroke="#000" stroke-width="1"/>
<path d="M960.2 703L968.8 694.4" stroke="#000" stroke-width="1"/>
<path d="M964.5 690.4L964.5 705.7" stroke="#000" stroke-width="1"/>
<path d="M964.1 703L972.7 694.4" stroke="#000" stroke-width="1"/>
<path d="M968.4 690.4L968.4 705.7" stroke="#000" stroke-width="1"/>
<path d="M972.7 703L981.3 694.4" stroke="#000" stroke-width="1"/>
<path d="M977 690.4L977 705.7" stroke="#000" stroke-width="1"/>
<path d="M1033.4 703L1042 694.4" stroke="#000" stroke-width="1"/>
<path d="M1037.7 690.4L1037.7 705.7" stroke="#000" stroke-width="1"/>
<path d="M1169.3 703L1177.9 694.4" stroke="#000" stroke-width="1"/>
<path d="M1173.6 690.4L1173.6 705.7" stroke="#000" stroke-width="1"/>
<text transform="translate(867.8 696.3) scale(0.82 1)" font-size="14.3" text-anchor="middle">42</text>
<text transform="translate(920.6 696.3) scale(0.82 1)" font-size="14.3" text-anchor="middle">100</text>
<text transform="translate(955.9 696.3) scale(0.82 1)" font-size="14.3" text-anchor="middle">5</text>
<text transform="translate(987.2 696.3) scale(0.82 1)" font-size="14.3" text-anchor="middle">12</text>
<text transform="translate(1014.7 696.3) scale(0.82 1)" font-size="14.3" text-anchor="middle">80</text>
<text transform="translate(1107.4 696.3) scale(0.82 1)" font-size="14.3" text-anchor="middle">172</text>
<path d="M851.6 722.7L1174.2 722.7" stroke="#000" stroke-width="1"/>
<path d="M847.3 727L855.9 718.4" stroke="#000" stroke-width="1"/>
<path d="M963.1 727L971.7 718.4" stroke="#000" stroke-width="1"/>
<path d="M972.5 727L981.1 718.4" stroke="#000" stroke-width="1"/>
<path d="M1169.9 727L1178.5 718.4" stroke="#000" stroke-width="1"/>
<text transform="translate(902.6 720.3) scale(0.82 1)" font-size="14.3" text-anchor="middle">147</text>
<text transform="translate(956.7 720.3) scale(0.82 1)" font-size="14.3" text-anchor="middle">12</text>
<text transform="translate(1075.6 720.3) scale(0.82 1)" font-size="14.3" text-anchor="middle">252</text>
<path d="M1174.2 698.7L1204 698.7" stroke="#000" stroke-width="1"/>
<path d="M1174.2 722.7L1204 722.7" stroke="#000" stroke-width="1"/>
<path d="M878.3 667.3L878.3 773.2" stroke="#000" stroke-width="1"/>
<path d="M874 663L882.6 671.6" stroke="#000" stroke-width="1"/>
<path d="M874 768.9L882.6 777.5" stroke="#000" stroke-width="1"/>
<text transform="translate(875.9 719) rotate(-90) scale(0.82 1)" font-size="14.3" text-anchor="middle">136</text>
<path d="M878.3 784.4L878.3 977.6" stroke="#000" stroke-width="1"/>
<path d="M874 780.1L882.6 788.7" stroke="#000" stroke-width="1"/>
<path d="M874 973.3L882.6 981.9" stroke="#000" stroke-width="1"/>
<text transform="translate(875.9 887.4) rotate(-90) scale(0.82 1)" font-size="14.3" text-anchor="middle">248</text>
<path d="M878.3 773.2L878.3 784.4" stroke="#000" stroke-width="1"/>
<text transform="translate(874.5 793) rotate(-90) scale(0.82 1)" font-size="14.3" text-anchor="middle">12</text>
<path d="M1151.3 342.7L1151.3 977.6" stroke="#000" stroke-width="1"/>
<path d="M1147 338.4L1155.6 347" stroke="#000" stroke-width="1"/>
<path d="M1147 651.5L1155.6 660.1" stroke="#000" stroke-width="1"/>
<path d="M1147 663L1155.6 671.6" stroke="#000" stroke-width="1"/>
<path d="M1147 768.9L1155.6 777.5" stroke="#000" stroke-width="1"/>
<path d="M1147 780.1L1155.6 788.7" stroke="#000" stroke-width="1"/>
<path d="M1147 973.3L1155.6 981.9" stroke="#000" stroke-width="1"/>
<text transform="translate(1148.9 499.6) rotate(-90) scale(0.82 1)" font-size="14.3" text-anchor="middle">400</text>
<text transform="translate(1148.9 675.2) rotate(-90) scale(0.82 1)" font-size="14.3" text-anchor="middle">12</text>
<text transform="translate(1148.9 726.1) rotate(-90) scale(0.82 1)" font-size="14.3" text-anchor="middle">136</text>
<text transform="translate(1148.9 792.8) rotate(-90) scale(0.82 1)" font-size="14.3" text-anchor="middle">12</text>
<text transform="translate(1148.9 887.4) rotate(-90) scale(0.82 1)" font-size="14.3" text-anchor="middle">248</text>
<path d="M923.5 616.4L923.5 681.7" stroke="#000" stroke-width="1"/>
<text transform="translate(920.8 654.8) rotate(-90) scale(0.82 1)" font-size="14.3" text-anchor="middle">90</text>
<text transform="translate(940.7 657.4) rotate(-90) scale(0.82 1)" font-size="14.3" text-anchor="middle">200</text>
<path d="M923.5 757.5L923.5 824.1" stroke="#000" stroke-width="1"/>
<text transform="translate(920.8 785.4) rotate(-90) scale(0.82 1)" font-size="14.3" text-anchor="middle">90</text>
<text transform="translate(940.7 782.3) rotate(-90) scale(0.82 1)" font-size="14.3" text-anchor="middle">200</text>
<path d="M926.6 730L994 730" stroke="#000" stroke-width="1"/>
<text transform="translate(967.9 727.6) scale(0.82 1)" font-size="14.3" text-anchor="middle">90</text>
<text transform="translate(967.9 745.2) scale(0.82 1)" font-size="14.3" text-anchor="middle">200</text>
<path d="M1158 539.3L1212.4 539.3" stroke="#000" stroke-width="1"/>
<text transform="translate(1202.4 536) scale(0.82 1)" font-size="14.3" text-anchor="middle">200</text>
<text transform="translate(1202.4 553.7) scale(0.82 1)" font-size="14.3" text-anchor="middle">275</text>
<path d="M1229.9 461L1229.9 617.2" stroke="#000" stroke-width="1"/>
<path d="M1225.6 456.7L1234.2 465.3" stroke="#000" stroke-width="1"/>
<path d="M1222.7 461L1238.2 461" stroke="#000" stroke-width="1"/>
<path d="M1225.6 612.9L1234.2 621.5" stroke="#000" stroke-width="1"/>
<path d="M1222.7 617.2L1238.2 617.2" stroke="#000" stroke-width="1"/>
<text transform="translate(1227.5 538.8) rotate(-90) scale(0.82 1)" font-size="14.3" text-anchor="middle">200</text>
<path d="M1229.9 342.7L1229.9 977.6" stroke="#000" stroke-width="1"/>
<path d="M1225.6 338.4L1234.2 347" stroke="#000" stroke-width="1"/>
<path d="M1225.6 973.3L1234.2 981.9" stroke="#000" stroke-width="1"/>
<text transform="translate(1227.5 798) rotate(-90) scale(0.82 1)" font-size="14.3" text-anchor="middle">458</text>
<path d="M1253.4 342.7L1253.4 977.6" stroke="#000" stroke-width="1"/>
<path d="M1249.1 338.4L1257.7 347" stroke="#000" stroke-width="1"/>
<path d="M1249.1 618.1L1257.7 626.7" stroke="#000" stroke-width="1"/>
<path d="M1249.1 775.9L1257.7 784.5" stroke="#000" stroke-width="1"/>
<path d="M1249.1 973.3L1257.7 981.9" stroke="#000" stroke-width="1"/>
<text transform="translate(1251 481.8) rotate(-90) scale(0.82 1)" font-size="14.3" text-anchor="middle">357</text>
<text transform="translate(1251 701.3) rotate(-90) scale(0.82 1)" font-size="14.3" text-anchor="middle">200</text>
<text transform="translate(1251 879.6) rotate(-90) scale(0.82 1)" font-size="14.3" text-anchor="middle">252</text>
<path d="M1548.7 342.7L1548.7 977.6" stroke="#000" stroke-width="1"/>
<path d="M1544.4 338.4L1553 347" stroke="#000" stroke-width="1"/>
<path d="M1544.4 973.3L1553 981.9" stroke="#000" stroke-width="1"/>
<text transform="translate(1546.3 660) rotate(-90) scale(0.82 1)" font-size="14.3" text-anchor="middle">808</text>
<path d="M1571.7 342.7L1571.7 977.6" stroke="#000" stroke-width="1"/>
<path d="M1567.4 338.4L1576 347" stroke="#000" stroke-width="1"/>
<path d="M1567.4 797.3L1576 805.9" stroke="#000" stroke-width="1"/>
<path d="M1567.4 939.8L1576 948.4" stroke="#000" stroke-width="1"/>
<path d="M1567.4 973.3L1576 981.9" stroke="#000" stroke-width="1"/>
<text transform="translate(1569.3 571.4) rotate(-90) scale(0.82 1)" font-size="14.3" text-anchor="middle">583</text>
<text transform="translate(1569.3 872.3) rotate(-90) scale(0.82 1)" font-size="14.3" text-anchor="middle">182</text>
<text transform="translate(1569.3 961.1) rotate(-90) scale(0.82 1)" font-size="14.3" text-anchor="middle">43</text>
<path d="M1567.4 939.8L1576 948.4" stroke="#000" stroke-width="1"/>
<path d="M1564.5 944.1L1580 944.1" stroke="#000" stroke-width="1"/>
<path d="M411.7 891.1L1595.7 891.1" stroke="#000" stroke-width="1"/>
<path d="M407.4 895.4L416 886.8" stroke="#000" stroke-width="1"/>
<path d="M836.6 895.4L845.2 886.8" stroke="#000" stroke-width="1"/>
<path d="M847.9 895.4L856.5 886.8" stroke="#000" stroke-width="1"/>
<path d="M1169.9 895.4L1178.5 886.8" stroke="#000" stroke-width="1"/>
<path d="M1199.9 895.4L1208.5 886.8" stroke="#000" stroke-width="1"/>
<path d="M1591.4 895.4L1600 886.8" stroke="#000" stroke-width="1"/>
<text transform="translate(619.5 888.7) scale(0.82 1)" font-size="14.3" text-anchor="middle">547</text>
<text transform="translate(831.3 888.7) scale(0.82 1)" font-size="14.3" text-anchor="middle">12</text>
<text transform="translate(1012.3 888.7) scale(0.82 1)" font-size="14.3" text-anchor="middle">411</text>
<text transform="translate(1189.2 888.7) scale(0.82 1)" font-size="14.3" text-anchor="middle">36</text>
<text transform="translate(1400 888.7) scale(0.82 1)" font-size="14.3" text-anchor="middle">500</text>
<path d="M411.7 914.6L1595.7 914.6" stroke="#000" stroke-width="1"/>
<path d="M407.4 918.9L416 910.3" stroke="#000" stroke-width="1"/>
<path d="M411.7 906.3L411.7 921.6" stroke="#000" stroke-width="1"/>
<path d="M477.5 918.9L486.1 910.3" stroke="#000" stroke-width="1"/>
<path d="M481.8 906.3L481.8 921.6" stroke="#000" stroke-width="1"/>
<path d="M606.5 918.9L615.1 910.3" stroke="#000" stroke-width="1"/>
<path d="M610.8 906.3L610.8 921.6" stroke="#000" stroke-width="1"/>
<path d="M707.3 918.9L715.9 910.3" stroke="#000" stroke-width="1"/>
<path d="M711.6 906.3L711.6 921.6" stroke="#000" stroke-width="1"/>
<path d="M837.2 918.9L845.8 910.3" stroke="#000" stroke-width="1"/>
<path d="M841.5 906.3L841.5 921.6" stroke="#000" stroke-width="1"/>
<path d="M847.9 918.9L856.5 910.3" stroke="#000" stroke-width="1"/>
<path d="M852.2 906.3L852.2 921.6" stroke="#000" stroke-width="1"/>
<path d="M938.5 918.9L947.1 910.3" stroke="#000" stroke-width="1"/>
<path d="M942.8 906.3L942.8 921.6" stroke="#000" stroke-width="1"/>
<path d="M1067.9 918.9L1076.5 910.3" stroke="#000" stroke-width="1"/>
<path d="M1072.2 906.3L1072.2 921.6" stroke="#000" stroke-width="1"/>
<path d="M1169.9 918.9L1178.5 910.3" stroke="#000" stroke-width="1"/>
<path d="M1174.2 906.3L1174.2 921.6" stroke="#000" stroke-width="1"/>
<path d="M1199.9 918.9L1208.5 910.3" stroke="#000" stroke-width="1"/>
<path d="M1204.2 906.3L1204.2 921.6" stroke="#000" stroke-width="1"/>
<path d="M1270 918.9L1278.6 910.3" stroke="#000" stroke-width="1"/>
<path d="M1274.3 906.3L1274.3 921.6" stroke="#000" stroke-width="1"/>
<path d="M1518.2 918.9L1526.8 910.3" stroke="#000" stroke-width="1"/>
<path d="M1522.5 906.3L1522.5 921.6" stroke="#000" stroke-width="1"/>
<path d="M1591.4 918.9L1600 910.3" stroke="#000" stroke-width="1"/>
<path d="M1595.7 906.3L1595.7 921.6" stroke="#000" stroke-width="1"/>
<text transform="translate(446.7 912.2) scale(0.82 1)" font-size="14.3" text-anchor="middle">89</text>
<text transform="translate(546.3 912.2) scale(0.82 1)" font-size="14.3" text-anchor="middle">165</text>
<text transform="translate(661.9 912.2) scale(0.82 1)" font-size="14.3" text-anchor="middle">128</text>
<text transform="translate(777.2 912.2) scale(0.82 1)" font-size="14.3" text-anchor="middle">165</text>
<text transform="translate(862.6 912.2) scale(0.82 1)" font-size="14.3" text-anchor="middle">12</text>
<text transform="translate(903.6 912.2) scale(0.82 1)" font-size="14.3" text-anchor="middle">116</text>
<text transform="translate(1007.6 912.2) scale(0.82 1)" font-size="14.3" text-anchor="middle">165</text>
<text transform="translate(1123.9 912.2) scale(0.82 1)" font-size="14.3" text-anchor="middle">130</text>
<text transform="translate(1189.2 912.2) scale(0.82 1)" font-size="14.3" text-anchor="middle">36</text>
<text transform="translate(1238 912.2) scale(0.82 1)" font-size="14.3" text-anchor="middle">89</text>
<text transform="translate(1397.9 912.2) scale(0.82 1)" font-size="14.3" text-anchor="middle">316</text>
<text transform="translate(1559.1 912.2) scale(0.82 1)" font-size="14.3" text-anchor="middle">95</text>
<path d="M1321.6 937.6L1321.6 1023.3" stroke="#000" stroke-width="1"/>
<text transform="translate(1317.6 975.5) rotate(-90) scale(0.82 1)" font-size="14.3" text-anchor="middle">95</text>
<text transform="translate(1336.7 978.6) rotate(-90) scale(0.82 1)" font-size="14.3" text-anchor="middle">207</text>
<path d="M1397.9 961.1L1397.9 1035.3" stroke="#000" stroke-width="1"/>
<text transform="translate(1393.6 1005.5) rotate(-90) scale(0.82 1)" font-size="14.3" text-anchor="middle">300</text>
<text transform="translate(1414.5 1005.5) rotate(-90) scale(0.82 1)" font-size="14.3" text-anchor="middle">350</text>
<circle cx="1397.9" cy="1047.3" r="12" stroke="#000" stroke-width="1" fill="#fff"/>
<text transform="translate(1397.9 1052.5) scale(0.82 1)" font-size="14.3" text-anchor="middle">Br1</text>
<path d="M1397.9 1066.1L1380.1 1089.1L1415.4 1089.1Z" stroke="#000" stroke-width="1" fill="none"/>
<path d="M546.3 961L546.3 1042.6" stroke="#000" stroke-width="1"/>
<circle cx="546.3" cy="1054.6" r="12" stroke="#000" stroke-width="1" fill="#fff"/>
<text transform="translate(546.3 1059.8) scale(0.82 1)" font-size="14.3" text-anchor="middle">O1</text>
<text transform="translate(542.3 1028.5) rotate(-90) scale(0.82 1)" font-size="14.3" text-anchor="middle">165</text>
<text transform="translate(562.7 1032.2) rotate(-90) scale(0.82 1)" font-size="14.3" text-anchor="middle">80</text>
<text transform="translate(546.3 971.6) scale(0.82 1)" font-size="14.3" text-anchor="middle">hp 150</text>
<path d="M542 981.9L550.6 973.3" stroke="#000" stroke-width="1"/>
<path d="M776.9 961L776.9 1042.6" stroke="#000" stroke-width="1"/>
<circle cx="776.9" cy="1054.6" r="12" stroke="#000" stroke-width="1" fill="#fff"/>
<text transform="translate(776.9 1059.8) scale(0.82 1)" font-size="14.3" text-anchor="middle">O1</text>
<text transform="translate(772.9 1028.5) rotate(-90) scale(0.82 1)" font-size="14.3" text-anchor="middle">165</text>
<text transform="translate(793.3 1032.2) rotate(-90) scale(0.82 1)" font-size="14.3" text-anchor="middle">80</text>
<text transform="translate(776.9 971.6) scale(0.82 1)" font-size="14.3" text-anchor="middle">hp 150</text>
<path d="M772.6 981.9L781.2 973.3" stroke="#000" stroke-width="1"/>
<path d="M1007.6 961L1007.6 1042.6" stroke="#000" stroke-width="1"/>
<circle cx="1007.6" cy="1054.6" r="12" stroke="#000" stroke-width="1" fill="#fff"/>
<text transform="translate(1007.6 1059.8) scale(0.82 1)" font-size="14.3" text-anchor="middle">O2</text>
<text transform="translate(1003.6 1028.5) rotate(-90) scale(0.82 1)" font-size="14.3" text-anchor="middle">165</text>
<text transform="translate(1024 1028.5) rotate(-90) scale(0.82 1)" font-size="14.3" text-anchor="middle">165</text>
<text transform="translate(1007.6 971.6) scale(0.82 1)" font-size="14.3" text-anchor="middle">hp 65</text>
<path d="M1003.3 981.9L1011.9 973.3" stroke="#000" stroke-width="1"/>
<path d="M1590 448.6L1661.5 448.6" stroke="#000" stroke-width="1"/>
<circle cx="1673.6" cy="448.6" r="12" stroke="#000" stroke-width="1" fill="#fff"/>
<text transform="translate(1678.8 448.6) rotate(-90) scale(0.82 1)" font-size="14.3" text-anchor="middle">O3</text>
<text transform="translate(1648.2 442.6) scale(0.82 1)" font-size="14.3" text-anchor="middle">180</text>
<text transform="translate(1649.5 463.4) scale(0.82 1)" font-size="14.3" text-anchor="middle">80</text>
<text transform="translate(1591.4 449.1) rotate(-90) scale(0.82 1)" font-size="14.3" text-anchor="middle">hp 290</text>
<path d="M1590 660.3L1661.5 660.3" stroke="#000" stroke-width="1"/>
<circle cx="1673.6" cy="660.3" r="12" stroke="#000" stroke-width="1" fill="#fff"/>
<text transform="translate(1678.8 660.3) rotate(-90) scale(0.82 1)" font-size="14.3" text-anchor="middle">O3</text>
<text transform="translate(1648.2 654.3) scale(0.82 1)" font-size="14.3" text-anchor="middle">180</text>
<text transform="translate(1649.5 675.1) scale(0.82 1)" font-size="14.3" text-anchor="middle">80</text>
<text transform="translate(1591.4 660.8) rotate(-90) scale(0.82 1)" font-size="14.3" text-anchor="middle">hp 290</text>
<path d="M1590 871.5L1661.5 871.5" stroke="#000" stroke-width="1"/>
<circle cx="1673.6" cy="871.5" r="12" stroke="#000" stroke-width="1" fill="#fff"/>
<text transform="translate(1678.8 871.5) rotate(-90) scale(0.82 1)" font-size="12.5" text-anchor="middle">O3*</text>
<text transform="translate(1648.2 865.5) scale(0.82 1)" font-size="14.3" text-anchor="middle">180</text>
<text transform="translate(1649.5 886.3) scale(0.82 1)" font-size="14.3" text-anchor="middle">80</text>
<text transform="translate(1591.4 872) rotate(-90) scale(0.82 1)" font-size="14.3" text-anchor="middle">hp 290</text>
<rect x="918.4" y="279.5" width="32.2" height="17" stroke="#000" stroke-width="1" fill="#fff"/>
<text transform="translate(934.5 293.1) scale(0.82 1)" font-size="14.3" text-anchor="middle">SZ1</text>
<path d="M934.4 296.5L934.4 313.5" stroke="#000" stroke-width="1"/>
<rect x="409.4" y="279.5" width="32.2" height="17" stroke="#000" stroke-width="1" fill="#fff"/>
<text transform="translate(425.5 293.1) scale(0.82 1)" font-size="14.3" text-anchor="middle">SZ2</text>
<path d="M425.5 296.5L425.5 313.5" stroke="#000" stroke-width="1"/>
<rect x="1150.2" y="279.5" width="32.2" height="17" stroke="#000" stroke-width="1" fill="#fff"/>
<text transform="translate(1166.3 293.1) scale(0.82 1)" font-size="14.3" text-anchor="middle">SZ2</text>
<rect x="1568.4" y="279.5" width="32.1" height="17" stroke="#000" stroke-width="1" fill="#fff"/>
<text transform="translate(1584.45 293.1) scale(0.82 1)" font-size="14.3" text-anchor="middle">SZ2</text>
<rect x="409.4" y="1024.6" width="31.6" height="16.7" stroke="#000" stroke-width="1" fill="#fff"/>
<text transform="translate(425.2 1038.05) scale(0.82 1)" font-size="14.3" text-anchor="middle">SZ2</text>
<rect x="852.4" y="1024.6" width="31.6" height="16.7" stroke="#000" stroke-width="1" fill="#fff"/>
<text transform="translate(868.2 1038.05) scale(0.82 1)" font-size="14.3" text-anchor="middle">SZ2</text>
<rect x="1191.5" y="1024.6" width="31.6" height="16.7" stroke="#000" stroke-width="1" fill="#fff"/>
<text transform="translate(1207.3 1038.05) scale(0.82 1)" font-size="14.3" text-anchor="middle">SZ2</text>
<rect x="1570.7" y="1024.6" width="31.6" height="16.7" stroke="#000" stroke-width="1" fill="#fff"/>
<text transform="translate(1586.5 1038.05) scale(0.82 1)" font-size="14.3" text-anchor="middle">SZ2</text>
<rect x="348.5" y="336.5" width="17" height="32" stroke="#000" stroke-width="1" fill="#fff"/>
<text transform="translate(362.1 352.5) rotate(-90) scale(0.82 1)" font-size="14.3" text-anchor="middle">SZ2</text>
<rect x="348.5" y="705.5" width="17" height="31.9" stroke="#000" stroke-width="1" fill="#fff"/>
<text transform="translate(362.1 721.45) rotate(-90) scale(0.82 1)" font-size="14.3" text-anchor="middle">SZ1</text>
<rect x="348.5" y="952.5" width="17" height="31.6" stroke="#000" stroke-width="1" fill="#fff"/>
<text transform="translate(362.1 968.3) rotate(-90) scale(0.82 1)" font-size="14.3" text-anchor="middle">SZ2</text>
<path d="M365.5 721.4L411.7 721.4" stroke="#000" stroke-width="1"/>
<rect x="1643.3" y="338.4" width="16.3" height="32" stroke="#000" stroke-width="1" fill="#fff"/>
<text transform="translate(1646.35 354.4) rotate(90) scale(0.82 1)" font-size="14.3" text-anchor="middle">SZ2</text>
<rect x="1643.3" y="520.6" width="16.3" height="32" stroke="#000" stroke-width="1" fill="#fff"/>
<text transform="translate(1646.35 536.6) rotate(90) scale(0.82 1)" font-size="14.3" text-anchor="middle">SZ2</text>
<rect x="1643.3" y="952.5" width="16.3" height="32" stroke="#000" stroke-width="1" fill="#fff"/>
<text transform="translate(1646.35 968.5) rotate(90) scale(0.82 1)" font-size="14.3" text-anchor="middle">SZ2</text>
<path d="M1626 536.5L1643.3 536.5" stroke="#000" stroke-width="1"/>
<rect x="498.2" y="524.1" width="31.4" height="17.3" stroke="#000" stroke-width="1" fill="#fff"/>
<text transform="translate(513.9 537.85) scale(0.82 1)" font-size="14.3" text-anchor="middle">S1</text>
<path d="M514.2 501.7L514.2 524.1" stroke="#000" stroke-width="1"/>
<rect x="592.5" y="359" width="16.8" height="31.5" stroke="#000" stroke-width="1" fill="#fff"/>
<text transform="translate(595.8 374.75) rotate(90) scale(0.82 1)" font-size="14.3" text-anchor="middle">S1</text>
<path d="M569.6 374.5L592.5 374.5" stroke="#000" stroke-width="1"/>
<rect x="989.3" y="627.6" width="31.9" height="16.7" stroke="#000" stroke-width="1" fill="#fff"/>
<text transform="translate(1005.25 641.05) scale(0.82 1)" font-size="14.3" text-anchor="middle">S1</text>
<path d="M1005.5 644.3L1005.5 667" stroke="#000" stroke-width="1"/>
<rect x="812.4" y="734.7" width="16.2" height="30.6" stroke="#000" stroke-width="1" fill="#fff"/>
<text transform="translate(825.6 750) rotate(-90) scale(0.82 1)" font-size="14.3" text-anchor="middle">S1</text>
<path d="M828.6 749.6L851.6 749.6" stroke="#000" stroke-width="1"/>
<rect x="1000.3" y="796.7" width="31.9" height="16.4" stroke="#000" stroke-width="1" fill="#fff"/>
<text transform="translate(1016.25 810) scale(0.82 1)" font-size="14.3" text-anchor="middle">S1</text>
<path d="M1016 773.2L1016 796.7" stroke="#000" stroke-width="1"/>
<rect x="1148.2" y="803.2" width="17" height="31.9" stroke="#000" stroke-width="1" fill="#fff"/>
<text transform="translate(1161.8 819.15) rotate(-90) scale(0.82 1)" font-size="14.3" text-anchor="middle">S2</text>
<path d="M1165.2 819.4L1204 819.4" stroke="#000" stroke-width="1"/>
<rect x="1148.2" y="423" width="17" height="32" stroke="#000" stroke-width="1" fill="#fff"/>
<text transform="translate(1161.8 439) rotate(-90) scale(0.82 1)" font-size="14.3" text-anchor="middle">S2</text>
<path d="M1165.2 439L1203 439" stroke="#000" stroke-width="1"/>
<text transform="translate(421.4 378.6) scale(0.87 1)" font-size="15.6" font-weight="bold">Pom. techniczne</text>
<rect x="421.4" y="382.6" width="108.3" height="38.9" stroke="#000" stroke-width="1" fill="#fff"/>
<path d="M421.4 402.2L529.7 402.2" stroke="#000" stroke-width="1"/>
<text transform="translate(429.4 397.5) scale(0.82 1)" font-size="15.2">0.6</text>
<text transform="translate(429.4 417.2) scale(0.82 1)" font-size="15.2">4 m<tspan font-size="9.5" dy="-5.5">2</tspan></text>
<text transform="translate(653.3 659.4) scale(0.87 1)" font-size="15.6" font-weight="bold">Warsztat</text>
<rect x="653.3" y="663.4" width="70.3" height="38.9" stroke="#000" stroke-width="1" fill="#fff"/>
<path d="M653.3 683L723.6 683" stroke="#000" stroke-width="1"/>
<text transform="translate(661.3 678.3) scale(0.82 1)" font-size="15.2">0.5</text>
<text transform="translate(661.3 698) scale(0.82 1)" font-size="15.2">55,96 m<tspan font-size="9.5" dy="-5.5">2</tspan></text>
<text transform="translate(940.5 560.6) scale(0.87 1)" font-size="15.6" font-weight="bold">Przedsionek</text>
<rect x="940.5" y="564.6" width="79.9" height="38.9" stroke="#000" stroke-width="1" fill="#fff"/>
<path d="M940.5 584.2L1020.4 584.2" stroke="#000" stroke-width="1"/>
<text transform="translate(948.5 579.5) scale(0.82 1)" font-size="15.2">0.2</text>
<text transform="translate(948.5 599.2) scale(0.82 1)" font-size="15.2">1,92 m<tspan font-size="9.5" dy="-5.5">2</tspan></text>
<path d="M940.5 603.5L940.5 711.8" stroke="#000" stroke-width="1"/>
<text transform="translate(1035.1 560.6) scale(0.87 1)" font-size="15.6" font-weight="bold">Toaleta</text>
<rect x="1035.1" y="564.6" width="62.2" height="38.9" stroke="#000" stroke-width="1" fill="#fff"/>
<path d="M1035.1 584.2L1097.3 584.2" stroke="#000" stroke-width="1"/>
<text transform="translate(1043.1 579.5) scale(0.82 1)" font-size="15.2">0.3</text>
<text transform="translate(1043.1 599.2) scale(0.82 1)" font-size="15.2">3,32 m<tspan font-size="9.5" dy="-5.5">2</tspan></text>
<path d="M1035.1 603.5L1035.1 711.8" stroke="#000" stroke-width="1"/>
<text transform="translate(1036.9 827.3) scale(0.87 1)" font-size="15.6" font-weight="bold">Pom. socjalne</text>
<rect x="1036.9" y="831.3" width="91.5" height="38.9" stroke="#000" stroke-width="1" fill="#fff"/>
<path d="M1036.9 850.9L1128.4 850.9" stroke="#000" stroke-width="1"/>
<text transform="translate(1044.9 846.2) scale(0.82 1)" font-size="15.2">0.4</text>
<text transform="translate(1044.9 865.9) scale(0.82 1)" font-size="15.2">9,98 m<tspan font-size="9.5" dy="-5.5">2</tspan></text>
<text transform="translate(1362.6 542.3) scale(0.87 1)" font-size="15.6" font-weight="bold">Magazyn</text>
<rect x="1362.6" y="546.3" width="69.8" height="38.9" stroke="#000" stroke-width="1" fill="#fff"/>
<path d="M1362.6 565.9L1432.4 565.9" stroke="#000" stroke-width="1"/>
<text transform="translate(1370.6 561.2) scale(0.82 1)" font-size="15.2">0.1</text>
<text transform="translate(1370.6 580.9) scale(0.82 1)" font-size="15.2">40,01 m<tspan font-size="9.5" dy="-5.5">2</tspan></text>
<circle cx="783.4" cy="273.2" r="7.8" stroke="#000" stroke-width="1" fill="#fff"/>
<path d="M783.4 273.2L783.4 265.4A7.8 7.8 0 0 1 791.2 273.2Z" fill="#000"/>
<path d="M783.4 273.2L783.4 281A7.8 7.8 0 0 1 775.6 273.2Z" fill="#000"/>
<path d="M767.2 273.2L836.7 273.2" stroke="#000" stroke-width="1"/>
<path d="M783.4 257.8L783.4 288.6" stroke="#000" stroke-width="1"/>
<text transform="translate(805.3 270.6) scale(0.89 1)" font-size="16">-0,02</text>
<circle cx="747.2" cy="529.4" r="8" stroke="#000" stroke-width="1" fill="#fff"/>
<path d="M747.2 529.4L747.2 521.4A8 8 0 0 1 755.2 529.4Z" fill="#000"/>
<path d="M747.2 529.4L747.2 537.4A8 8 0 0 1 739.2 529.4Z" fill="#000"/>
<path d="M730.8 529.4L906.7 529.4" stroke="#000" stroke-width="1"/>
<path d="M747.2 514.1L747.2 545.6" stroke="#000" stroke-width="1"/>
<text transform="translate(768.7 527.3) scale(0.87 1)" font-size="16">±0,00 = 176,15 m npm</text>
<circle cx="903.4" cy="1059.9" r="7.8" stroke="#000" stroke-width="1" fill="#fff"/>
<path d="M903.4 1059.9L903.4 1052.1A7.8 7.8 0 0 1 911.2 1059.9Z" fill="#000"/>
<path d="M903.4 1059.9L903.4 1067.7A7.8 7.8 0 0 1 895.6 1059.9Z" fill="#000"/>
<path d="M888.2 1059.9L956.7 1059.9" stroke="#000" stroke-width="1"/>
<path d="M903.4 1044.5L903.4 1075.5" stroke="#000" stroke-width="1"/>
<text transform="translate(925.8 1057.8) scale(0.89 1)" font-size="16">-0,02</text>
<text transform="translate(1229 250.2) scale(0.82 1)" font-size="14.3">do zewnętrznej instalacji kanalizacji sanitarnej</text>
<text transform="translate(1229 275.3) scale(0.82 1)" font-size="14.3">przewód spalinowy (pd nagrzewnicy olejowej)</text>
<text transform="translate(1352.2 646.4) scale(0.82 1)" font-size="14.3">fundament podnośnika</text>
<text transform="translate(1808.1 919.4) scale(0.84 1)" font-size="14.3">zestaw</text>
<text transform="translate(1808.1 936.6) scale(0.84 1)" font-size="14.3">wodomierzowy</text>
<text transform="translate(1805.4 1245.5) scale(0.84 1)" font-size="14.3">z przyłącza</text>
<text transform="translate(1805.4 1262.7) scale(0.84 1)" font-size="14.3">wodociągowego</text>
<g stroke="#000" stroke-width="0.35">
<text transform="translate(814.8 1204) scale(0.83 1)" font-size="14.3" text-anchor="end">kratka wyciągowa na kanale</text>
<text transform="translate(814.8 1221) scale(0.83 1)" font-size="14.3" text-anchor="end">wentylacyjnym 50m3/h</text>
</g>
<text transform="translate(814.8 1245.3) scale(0.83 1)" font-size="14.3" text-anchor="end">wentylator z opóźnieniem czasowym</text>
<text transform="translate(814.8 1261.8) scale(0.83 1)" font-size="14.3" text-anchor="end">uruchamiany czujnikiem ruchu 50m<tspan font-size="9" dy="-5">3</tspan><tspan dy="5">/h</tspan></text>
<text transform="translate(814.8 1286.6) scale(0.83 1)" font-size="14.3" text-anchor="end">pion kanalizacyjny</text>
<text transform="translate(814.8 1303.3) scale(0.83 1)" font-size="14.3" text-anchor="end">Ø 150</text>
<path d="M814.8 1206.9L857.4 1206.9" stroke="#000" stroke-width="1"/>
<path d="M814.8 1248.5L982.8 1248.5" stroke="#000" stroke-width="1"/>
<path d="M814.8 1290.5L1106.1 1290.5" stroke="#000" stroke-width="1"/>
<text transform="translate(1004.1 1369.4) scale(0.83 1)" font-size="17" text-anchor="middle" font-weight="bold">ZESTAWIENIE PRZEGRÓD</text>
<circle cx="274.1" cy="158" r="39.2" stroke="#000" stroke-width="1" fill="none"/>
<path d="M308.58 139.36L239.62 176.64" stroke="#000" stroke-width="1"/>
<path d="M292.74 192.48L255.46 123.52" stroke="#000" stroke-width="1"/>
<path d="M274.5 159L239.11 175.67" stroke="#000" stroke-width="1"/>
<text transform="translate(227.2 208.8) rotate(-117.5) scale(0.8 1)" font-size="43.5">Pn</text>
<text transform="translate(2113.6 61.6) scale(0.82 1)" font-size="19.4" text-anchor="middle" font-weight="bold">RZUT PARTERU</text>
<text transform="translate(2113.6 85.6) scale(0.8 1)" font-size="14.2" text-anchor="middle" font-weight="bold">SKALA 1:50</text>
<text transform="translate(2113.6 487.2) scale(0.84 1)" font-size="16.6" text-anchor="middle" font-weight="bold">ZESTAWIENIE POWIERZCHNI</text>
<clipPath id="tclip"><rect x="1970" y="510" width="290" height="146.8"/></clipPath><g clip-path="url(#tclip)">
<path d="M1977.5 515.5L2249.6 515.5" stroke="#555" stroke-width="1.1"/>
<path d="M1977.5 534.9L2249.6 534.9" stroke="#555" stroke-width="1.1"/>
<path d="M1977.5 554.7L2249.6 554.7" stroke="#555" stroke-width="1.1"/>
<path d="M1977.5 574.5L2249.6 574.5" stroke="#555" stroke-width="1.1"/>
<path d="M1977.5 594.3L2249.6 594.3" stroke="#555" stroke-width="1.1"/>
<path d="M1977.5 614.1L2249.6 614.1" stroke="#555" stroke-width="1.1"/>
<path d="M1977.5 633.9L2249.6 633.9" stroke="#555" stroke-width="1.1"/>
<path d="M1977.5 653.7L2249.6 653.7" stroke="#555" stroke-width="1.1"/>
<path d="M1977.5 515.5L1977.5 673.5" stroke="#555" stroke-width="1.1"/>
<path d="M2009.4 515.5L2009.4 673.5" stroke="#555" stroke-width="1.1"/>
<path d="M2131.3 515.5L2131.3 673.5" stroke="#555" stroke-width="1.1"/>
<path d="M2249.6 515.5L2249.6 673.5" stroke="#555" stroke-width="1.1"/>
<path d="M1977.5 673.5L2249.6 673.5" stroke="#555" stroke-width="1.1"/>
<text transform="translate(2243 669) scale(0.82 1)" font-size="10" text-anchor="end">2</text>
</g>
<text transform="translate(1983.7 531.2) scale(0.84 1)" font-size="16.4" font-weight="bold">NR</text>
<text transform="translate(2013.9 531.2) scale(0.83 1)" font-size="16.4" font-weight="bold">POMIESZCZENIA</text>
<text transform="translate(2136.6 531.2) scale(0.83 1)" font-size="16.4" font-weight="bold">POWIERZCHNIA</text>
<text transform="translate(1981.3 551) scale(0.83 1)" font-size="16.4">0.1</text>
<text transform="translate(2013.3 551) scale(0.83 1)" font-size="16.4">Magazyn</text>
<text transform="translate(2245.5 551) scale(0.83 1)" font-size="16.4" text-anchor="end">40,01</text>
<text transform="translate(1981.3 570.72) scale(0.83 1)" font-size="16.4">0.2</text>
<text transform="translate(2013.3 570.72) scale(0.83 1)" font-size="16.4">Przedsionek</text>
<text transform="translate(2245.5 570.72) scale(0.83 1)" font-size="16.4" text-anchor="end">1,92</text>
<text transform="translate(1981.3 590.44) scale(0.83 1)" font-size="16.4">0.3</text>
<text transform="translate(2013.3 590.44) scale(0.83 1)" font-size="16.4">Toaleta</text>
<text transform="translate(2245.5 590.44) scale(0.83 1)" font-size="16.4" text-anchor="end">3,32</text>
<text transform="translate(1981.3 610.16) scale(0.83 1)" font-size="16.4">0.4</text>
<text transform="translate(2013.3 610.16) scale(0.83 1)" font-size="16.4">Pom. socjalne</text>
<text transform="translate(2245.5 610.16) scale(0.83 1)" font-size="16.4" text-anchor="end">9,98</text>
<text transform="translate(1981.3 629.88) scale(0.83 1)" font-size="16.4">0.5</text>
<text transform="translate(2013.3 629.88) scale(0.83 1)" font-size="16.4">Warsztat</text>
<text transform="translate(2245.5 629.88) scale(0.83 1)" font-size="16.4" text-anchor="end">55,96</text>
<text transform="translate(1981.3 649.6) scale(0.83 1)" font-size="16.4">0.6</text>
<text transform="translate(2013.3 649.6) scale(0.83 1)" font-size="16.4">Pom. techniczne</text>
<text transform="translate(2245.5 649.6) scale(0.83 1)" font-size="16.4" text-anchor="end">4,00</text>
<text transform="translate(2113.6 692.1) scale(0.84 1)" font-size="16.6" text-anchor="middle" font-weight="bold">OZNACZENIA</text>
<rect x="1924.3" y="715.7" width="55.3" height="25.8" fill="url(#zb)" stroke="none"/>
<rect x="1924.3" y="715.7" width="55.3" height="25.8" stroke="#000" stroke-width="1.2" fill="none"/>
<rect x="1924.3" y="754.5" width="55.3" height="26" fill="url(#akl)" stroke="none"/>
<rect x="1924.3" y="754.5" width="55.3" height="26" stroke="#000" stroke-width="1.2" fill="none"/>
<use href="#s8" x="1940.5" y="770.5"/><use href="#s8" x="1966" y="766"/>
<rect x="1924.3" y="793.8" width="55.3" height="26.3" fill="url(#st)" stroke="none"/>
<rect x="1924.3" y="793.8" width="55.3" height="26.3" stroke="#000" stroke-width="1.4" fill="none"/>
<circle cx="1937.3" cy="848.5" r="7.7" stroke="#000" stroke-width="1" fill="#fff"/>
<path d="M1937.3 848.5L1937.3 840.8A7.7 7.7 0 0 1 1945 848.5Z" fill="#000"/>
<path d="M1937.3 848.5L1937.3 856.2A7.7 7.7 0 0 1 1929.6 848.5Z" fill="#000"/>
<path d="M1921.3 848.5L1977.5 848.5" stroke="#000" stroke-width="1"/>
<path d="M1937.3 832L1937.3 864.5" stroke="#000" stroke-width="1"/>
<text transform="translate(1946.4 841.4) scale(0.88 1)" font-size="14.5">+3,00</text>
<path d="M1943.5 867.5L1943.5 898.5L1967.7 882.8Z" stroke="#000" stroke-width="1" fill="none"/>
<text transform="translate(1995.5 734.4) scale(0.83 1)" font-size="16.4">elementy projektowane - żelbet</text>
<text transform="translate(1995.5 773.4) scale(0.83 1)" font-size="16.4">ściana projektowana - beton komórkowy</text>
<text transform="translate(1995.5 812.7) scale(0.83 1)" font-size="16.4">izolacja termiczna - styropian</text>
<text transform="translate(1995.5 852.1) scale(0.83 1)" font-size="16.4">rzędna posadzki w stanie wykończonym</text>
<text transform="translate(1995.5 892) scale(0.83 1)" font-size="16.4">wejście / wjazd do budynku</text>
<text transform="translate(2113.6 937) scale(0.84 1)" font-size="16.6" text-anchor="middle" font-weight="bold">UWAGI</text>
<text transform="translate(1920.7 1015.3) scale(0.83 1)" font-size="16.5">Wszystkie wymiary podano w cm.</text>
<text transform="translate(1920.7 1034.73) scale(0.83 1)" font-size="16.5">Przegrody wewnętrzne zwymiarowano bez uwzględniania</text>
<text transform="translate(1920.7 1054.16) scale(0.83 1)" font-size="16.5">warstw wykończeniowych.</text>
<text transform="translate(1920.7 1073.59) scale(0.83 1)" font-size="16.5">Wymiary okien podano w świetle otworu.</text>
<text transform="translate(1920.7 1093.02) scale(0.83 1)" font-size="16.5">Wymiary drzwi podano w świetle przejścia.</text>
<text transform="translate(1920.7 1112.45) scale(0.83 1)" font-size="16.5">Wysokość parapetu podano od warstwy wykończeniowej</text>
<text transform="translate(1920.7 1131.88) scale(0.83 1)" font-size="16.5">posadzki.</text>
<text transform="translate(1920.7 1151.31) scale(0.83 1)" font-size="16.5">1. Wszystkie wymiary sprawdzić na budowie. W razie</text>
<text transform="translate(1920.7 1170.74) scale(0.83 1)" font-size="16.5">niezgodności skontaktować się z projektantem.</text>
<text transform="translate(1920.7 1190.17) scale(0.83 1)" font-size="16.5">2. Wszystkie zmiany uzgadniać z projektantem w ramach</text>
<text transform="translate(1920.7 1209.6) scale(0.83 1)" font-size="16.5">nadzoru autorskiego.</text>
<text transform="translate(1920.7 1229.03) scale(0.83 1)" font-size="16.5">3. Montowane elementy powinny posiadać świadectwa i atesty</text>
<text transform="translate(1920.7 1248.46) scale(0.83 1)" font-size="16.5">dopuszczające do stosowania.</text>
<text transform="translate(1920.7 1267.89) scale(0.83 1)" font-size="16.5">4. Przed zamówieniem stolarki wymiary otworów w świetle muru</text>
<text transform="translate(1920.7 1287.32) scale(0.83 1)" font-size="16.5">należy dokładnie sprawdzić na budowie.</text>
<text transform="translate(1920.7 1306.75) scale(0.83 1)" font-size="16.5">5. Wprowadzanie zmian w projekcie wymaga uzyskania</text>
<text transform="translate(1920.7 1326.18) scale(0.83 1)" font-size="16.5">zgody projektanta</text>
<text transform="translate(360.95 1391.3) scale(0.88 1)" font-size="7.75" text-anchor="middle" font-weight="bold">C1</text>
<text transform="translate(463.05 1391.3) scale(0.88 1)" font-size="7.75" text-anchor="middle" font-weight="bold">COKÓŁ</text>
<text transform="translate(374.5 1401.02) scale(0.88 1)" font-size="7.75" text-anchor="end" fill="#222">1 x</text>
<text transform="translate(382.7 1401.02) scale(0.88 1)" font-size="7.75" font-weight="bold">warstwa ochronna</text>
<text transform="translate(382.7 1410.74) scale(0.88 1)" font-size="7.75" fill="#333">tynk mozaikowy kolor RAL 7021</text>
<text transform="translate(374.5 1420.46) scale(0.88 1)" font-size="7.75" text-anchor="end" fill="#222">2 x</text>
<text transform="translate(374.5 1430.18) scale(0.88 1)" font-size="7.75" text-anchor="end" fill="#222">10,0 cm</text>
<text transform="translate(382.7 1420.46) scale(0.88 1)" font-size="7.75" font-weight="bold">izolacja termiczna</text>
<text transform="translate(382.7 1430.18) scale(0.88 1)" font-size="7.75" fill="#333">polistyren ekstrudowany XPS, Λ = 0,031 W/mK</text>
<text transform="translate(374.5 1439.9) scale(0.88 1)" font-size="7.75" text-anchor="end" fill="#222">2 x</text>
<text transform="translate(382.7 1439.9) scale(0.88 1)" font-size="7.75" font-weight="bold">izolacja przeciwwodna</text>
<text transform="translate(382.7 1449.62) scale(0.88 1)" font-size="7.75" fill="#333">szlam mineralny polimerowo-cementowy flex 1,5 kg/m<tspan font-size="5" dy="-2.5">2</tspan></text>
<text transform="translate(374.5 1459.34) scale(0.88 1)" font-size="7.75" text-anchor="end" fill="#222">24,0 cm</text>
<text transform="translate(382.7 1459.34) scale(0.88 1)" font-size="7.75" font-weight="bold">konstrukcja nośna</text>
<text transform="translate(382.7 1469.06) scale(0.88 1)" font-size="7.75" fill="#333">betonowe bloczki fundamentowe / trzpienie żelbetowe</text>
<text transform="translate(382.7 1478.78) scale(0.88 1)" font-size="7.75" fill="#333">/ bloczki z betonu komórkowego</text>
<text transform="translate(374.5 1488.5) scale(0.88 1)" font-size="7.75" text-anchor="end" fill="#222">2 x</text>
<text transform="translate(382.7 1488.5) scale(0.88 1)" font-size="7.75" font-weight="bold">izolacja przeciwwodna</text>
<text transform="translate(382.7 1498.22) scale(0.88 1)" font-size="7.75" fill="#333">masa polimerowo-bitumiczna 2 kg/m<tspan font-size="5" dy="-2.5">2</tspan></text>
<text transform="translate(360.95 1507.94) scale(0.88 1)" font-size="7.75" text-anchor="middle" font-weight="bold">SF1</text>
<text transform="translate(463.05 1507.94) scale(0.88 1)" font-size="7.75" text-anchor="middle" font-weight="bold">ŚCIANA FUNDAMENTOWA</text>
<text transform="translate(374.5 1517.66) scale(0.88 1)" font-size="7.75" text-anchor="end" fill="#222">1 x</text>
<text transform="translate(382.7 1517.66) scale(0.88 1)" font-size="7.75" font-weight="bold">warstwa ochronna</text>
<text transform="translate(382.7 1527.38) scale(0.88 1)" font-size="7.75" fill="#333">folia kubełkowa</text>
<text transform="translate(374.5 1537.1) scale(0.88 1)" font-size="7.75" text-anchor="end" fill="#222">2 x</text>
<text transform="translate(374.5 1546.82) scale(0.88 1)" font-size="7.75" text-anchor="end" fill="#222">10,0 cm</text>
<text transform="translate(382.7 1537.1) scale(0.88 1)" font-size="7.75" font-weight="bold">izolacja termiczna</text>
<text transform="translate(382.7 1546.82) scale(0.88 1)" font-size="7.75" fill="#333">polistyren ekstrudowany XPS, Λ = 0,031 W/mK</text>
<text transform="translate(374.5 1556.54) scale(0.88 1)" font-size="7.75" text-anchor="end" fill="#222">2 x</text>
<text transform="translate(382.7 1556.54) scale(0.88 1)" font-size="7.75" font-weight="bold">izolacja przeciwwodna</text>
<text transform="translate(382.7 1566.26) scale(0.88 1)" font-size="7.75" fill="#333">masa polimerowo-bitumiczna 2 kg/m<tspan font-size="5" dy="-2.5">2</tspan></text>
<text transform="translate(374.5 1575.98) scale(0.88 1)" font-size="7.75" text-anchor="end" fill="#222">24,0 cm</text>
<text transform="translate(382.7 1575.98) scale(0.88 1)" font-size="7.75" font-weight="bold">konstrukcja nośna</text>
<text transform="translate(382.7 1585.7) scale(0.88 1)" font-size="7.75" fill="#333">betonowe bloczki fundamentowe</text>
<text transform="translate(374.5 1595.42) scale(0.88 1)" font-size="7.75" text-anchor="end" fill="#222">2 x</text>
<text transform="translate(382.7 1595.42) scale(0.88 1)" font-size="7.75" font-weight="bold">izolacja przeciwwodna</text>
<text transform="translate(382.7 1605.14) scale(0.88 1)" font-size="7.75" fill="#333">masa polimerowo-bitumiczna 2 kg/m<tspan font-size="5" dy="-2.5">2</tspan></text>
<text transform="translate(374.5 1614.86) scale(0.88 1)" font-size="7.75" text-anchor="end" fill="#222">1 x</text>
<text transform="translate(382.7 1614.86) scale(0.88 1)" font-size="7.75" font-weight="bold">warstwa ochronna</text>
<text transform="translate(382.7 1624.58) scale(0.88 1)" font-size="7.75" fill="#333">folia kubełkowa</text>
<path d="M344.4 1383.5L548.6 1383.5" stroke="#000" stroke-width="1.1"/>
<path d="M344.4 1393.22L548.6 1393.22" stroke="#000" stroke-width="1.1"/>
<path d="M344.4 1412.66L548.6 1412.66" stroke="#000" stroke-width="1.1"/>
<path d="M344.4 1432.1L548.6 1432.1" stroke="#000" stroke-width="1.1"/>
<path d="M344.4 1451.54L548.6 1451.54" stroke="#000" stroke-width="1.1"/>
<path d="M344.4 1480.7L548.6 1480.7" stroke="#000" stroke-width="1.1"/>
<path d="M344.4 1500.14L548.6 1500.14" stroke="#000" stroke-width="1.1"/>
<path d="M344.4 1509.86L548.6 1509.86" stroke="#000" stroke-width="1.1"/>
<path d="M344.4 1529.3L548.6 1529.3" stroke="#000" stroke-width="1.1"/>
<path d="M344.4 1548.74L548.6 1548.74" stroke="#000" stroke-width="1.1"/>
<path d="M344.4 1568.18L548.6 1568.18" stroke="#000" stroke-width="1.1"/>
<path d="M344.4 1587.62L548.6 1587.62" stroke="#000" stroke-width="1.1"/>
<path d="M344.4 1607.06L548.6 1607.06" stroke="#000" stroke-width="1.1"/>
<path d="M344.4 1626.5L548.6 1626.5" stroke="#000" stroke-width="1.1"/>
<path d="M344.4 1383.5L344.4 1626.5" stroke="#000" stroke-width="1.1"/>
<path d="M377.5 1383.5L377.5 1626.5" stroke="#000" stroke-width="1.1"/>
<path d="M548.6 1383.5L548.6 1626.5" stroke="#000" stroke-width="1.1"/>
<text transform="translate(565.15 1391.3) scale(0.88 1)" font-size="7.75" text-anchor="middle" font-weight="bold">SF2</text>
<text transform="translate(667.25 1391.3) scale(0.88 1)" font-size="7.75" text-anchor="middle" font-weight="bold">ŚCIANA FUNDAMENTOWA</text>
<text transform="translate(578.7 1401.02) scale(0.88 1)" font-size="7.75" text-anchor="end" fill="#222">1 x</text>
<text transform="translate(586.9 1401.02) scale(0.88 1)" font-size="7.75" font-weight="bold">warstwa ochronna</text>
<text transform="translate(586.9 1410.74) scale(0.88 1)" font-size="7.75" fill="#333">folia kubełkowa</text>
<text transform="translate(578.7 1420.46) scale(0.88 1)" font-size="7.75" text-anchor="end" fill="#222">2 x</text>
<text transform="translate(586.9 1420.46) scale(0.88 1)" font-size="7.75" font-weight="bold">izolacja przeciwwodna</text>
<text transform="translate(586.9 1430.18) scale(0.88 1)" font-size="7.75" fill="#333">masa polimerowo-bitumiczna 2 kg/m<tspan font-size="5" dy="-2.5">2</tspan></text>
<text transform="translate(578.7 1439.9) scale(0.88 1)" font-size="7.75" text-anchor="end" fill="#222">36,0 cm</text>
<text transform="translate(586.9 1439.9) scale(0.88 1)" font-size="7.75" font-weight="bold">konstrukcja nośna</text>
<text transform="translate(586.9 1449.62) scale(0.88 1)" font-size="7.75" fill="#333">betonowe bloczki fundamentowe</text>
<text transform="translate(578.7 1459.34) scale(0.88 1)" font-size="7.75" text-anchor="end" fill="#222">2 x</text>
<text transform="translate(586.9 1459.34) scale(0.88 1)" font-size="7.75" font-weight="bold">izolacja przeciwwodna</text>
<text transform="translate(586.9 1469.06) scale(0.88 1)" font-size="7.75" fill="#333">masa polimerowo-bitumiczna 2 kg/m<tspan font-size="5" dy="-2.5">2</tspan></text>
<text transform="translate(578.7 1478.78) scale(0.88 1)" font-size="7.75" text-anchor="end" fill="#222">1 x</text>
<text transform="translate(586.9 1478.78) scale(0.88 1)" font-size="7.75" font-weight="bold">warstwa ochronna</text>
<text transform="translate(586.9 1488.5) scale(0.88 1)" font-size="7.75" fill="#333">folia kubełkowa</text>
<path d="M548.6 1383.5L752.8 1383.5" stroke="#000" stroke-width="1.1"/>
<path d="M548.6 1393.22L752.8 1393.22" stroke="#000" stroke-width="1.1"/>
<path d="M548.6 1412.66L752.8 1412.66" stroke="#000" stroke-width="1.1"/>
<path d="M548.6 1432.1L752.8 1432.1" stroke="#000" stroke-width="1.1"/>
<path d="M548.6 1451.54L752.8 1451.54" stroke="#000" stroke-width="1.1"/>
<path d="M548.6 1470.98L752.8 1470.98" stroke="#000" stroke-width="1.1"/>
<path d="M548.6 1490.42L752.8 1490.42" stroke="#000" stroke-width="1.1"/>
<path d="M548.6 1383.5L548.6 1490.42" stroke="#000" stroke-width="1.1"/>
<path d="M581.7 1383.5L581.7 1490.42" stroke="#000" stroke-width="1.1"/>
<path d="M752.8 1383.5L752.8 1490.42" stroke="#000" stroke-width="1.1"/>
<text transform="translate(792.85 1391.3) scale(0.88 1)" font-size="7.75" text-anchor="middle" font-weight="bold">SZ1</text>
<text transform="translate(894.95 1391.3) scale(0.88 1)" font-size="7.75" text-anchor="middle" font-weight="bold">ŚCIANA ZEWNĘTRZNA - TYNK</text>
<text transform="translate(806.4 1401.02) scale(0.88 1)" font-size="7.75" text-anchor="end" fill="#222">1,0 cm</text>
<text transform="translate(814.6 1401.02) scale(0.88 1)" font-size="7.75" font-weight="bold">warstwa elewacyjna</text>
<text transform="translate(814.6 1410.74) scale(0.88 1)" font-size="7.75" fill="#333">tynk mineralny na siatce kolor RAL 9003 lub 7021</text>
<text transform="translate(806.4 1420.46) scale(0.88 1)" font-size="7.75" text-anchor="end" fill="#222">36,0 cm</text>
<text transform="translate(814.6 1420.46) scale(0.88 1)" font-size="7.75" font-weight="bold">konstrukcja nośna</text>
<text transform="translate(814.6 1430.18) scale(0.88 1)" font-size="7.75" fill="#333">bloczki z betonu komórkowego</text>
<text transform="translate(806.4 1439.9) scale(0.88 1)" font-size="7.75" text-anchor="end" fill="#222">1,5 cm</text>
<text transform="translate(814.6 1439.9) scale(0.88 1)" font-size="7.75" font-weight="bold">warstwa wykończeniowa</text>
<text transform="translate(814.6 1449.62) scale(0.88 1)" font-size="7.75" fill="#333">tynk/glazura na kleju (pomieszczenia mokre)</text>
<text transform="translate(792.85 1459.34) scale(0.88 1)" font-size="7.75" text-anchor="middle" font-weight="bold">SZ2</text>
<text transform="translate(894.95 1459.34) scale(0.88 1)" font-size="7.75" text-anchor="middle" font-weight="bold">ŚCIANA ZEWNĘTRZNA - TYNK</text>
<text transform="translate(806.4 1469.06) scale(0.88 1)" font-size="7.75" text-anchor="end" fill="#222">1,0 cm</text>
<text transform="translate(814.6 1469.06) scale(0.88 1)" font-size="7.75" font-weight="bold">warstwa elewacyjna</text>
<text transform="translate(814.6 1478.78) scale(0.88 1)" font-size="7.75" fill="#333">tynk mineralny na siatce kolor RAL 9003 lub 7021</text>
<text transform="translate(806.4 1488.5) scale(0.88 1)" font-size="7.75" text-anchor="end" fill="#222">12,0 cm</text>
<text transform="translate(814.6 1488.5) scale(0.88 1)" font-size="7.75" font-weight="bold">izolacja termiczna</text>
<text transform="translate(814.6 1498.22) scale(0.88 1)" font-size="7.75" fill="#333">styropian EPS 80, Λ = 0,040 W/mK</text>
<text transform="translate(806.4 1507.94) scale(0.88 1)" font-size="7.75" text-anchor="end" fill="#222">24,0 cm</text>
<text transform="translate(814.6 1507.94) scale(0.88 1)" font-size="7.75" font-weight="bold">konstrukcja nośna</text>
<text transform="translate(814.6 1517.66) scale(0.88 1)" font-size="7.75" fill="#333">trzpienie żelbetowe / bloczki z betonu komórkowego</text>
<text transform="translate(806.4 1527.38) scale(0.88 1)" font-size="7.75" text-anchor="end" fill="#222">1,5 cm</text>
<text transform="translate(814.6 1527.38) scale(0.88 1)" font-size="7.75" font-weight="bold">warstwa wykończeniowa</text>
<text transform="translate(814.6 1537.1) scale(0.88 1)" font-size="7.75" fill="#333">tynk/glazura na kleju (pomieszczenia mokre)</text>
<path d="M776.3 1383.5L980.5 1383.5" stroke="#000" stroke-width="1.1"/>
<path d="M776.3 1393.22L980.5 1393.22" stroke="#000" stroke-width="1.1"/>
<path d="M776.3 1412.66L980.5 1412.66" stroke="#000" stroke-width="1.1"/>
<path d="M776.3 1432.1L980.5 1432.1" stroke="#000" stroke-width="1.1"/>
<path d="M776.3 1451.54L980.5 1451.54" stroke="#000" stroke-width="1.1"/>
<path d="M776.3 1461.26L980.5 1461.26" stroke="#000" stroke-width="1.1"/>
<path d="M776.3 1480.7L980.5 1480.7" stroke="#000" stroke-width="1.1"/>
<path d="M776.3 1500.14L980.5 1500.14" stroke="#000" stroke-width="1.1"/>
<path d="M776.3 1519.58L980.5 1519.58" stroke="#000" stroke-width="1.1"/>
<path d="M776.3 1539.02L980.5 1539.02" stroke="#000" stroke-width="1.1"/>
<path d="M776.3 1383.5L776.3 1539.02" stroke="#000" stroke-width="1.1"/>
<path d="M809.4 1383.5L809.4 1539.02" stroke="#000" stroke-width="1.1"/>
<path d="M980.5 1383.5L980.5 1539.02" stroke="#000" stroke-width="1.1"/>
<text transform="translate(1020.85 1391.3) scale(0.88 1)" font-size="7.75" text-anchor="middle" font-weight="bold">S1</text>
<text transform="translate(1122.95 1391.3) scale(0.88 1)" font-size="7.75" text-anchor="middle" font-weight="bold">ŚCIANA WEWNĘTRZNA DZIAŁOWA</text>
<text transform="translate(1034.4 1401.02) scale(0.88 1)" font-size="7.75" text-anchor="end" fill="#222">1,5 cm</text>
<text transform="translate(1042.6 1401.02) scale(0.88 1)" font-size="7.75" font-weight="bold">warstwa wykończeniowa</text>
<text transform="translate(1042.6 1410.74) scale(0.88 1)" font-size="7.75" fill="#333">tynk/glazura na kleju (pomieszczenia mokre)</text>
<text transform="translate(1034.4 1420.46) scale(0.88 1)" font-size="7.75" text-anchor="end" fill="#222">12,0 cm</text>
<text transform="translate(1042.6 1420.46) scale(0.88 1)" font-size="7.75" font-weight="bold">konstrukcja nośna</text>
<text transform="translate(1042.6 1430.18) scale(0.88 1)" font-size="7.75" fill="#333">bloczki z betonu komórkowego</text>
<text transform="translate(1034.4 1439.9) scale(0.88 1)" font-size="7.75" text-anchor="end" fill="#222">1,5 cm</text>
<text transform="translate(1042.6 1439.9) scale(0.88 1)" font-size="7.75" font-weight="bold">warstwa wykończeniowa</text>
<text transform="translate(1042.6 1449.62) scale(0.88 1)" font-size="7.75" fill="#333">tynk/glazura na kleju (pomieszczenia mokre)</text>
<text transform="translate(1020.85 1459.34) scale(0.88 1)" font-size="7.75" text-anchor="middle" font-weight="bold">S2</text>
<text transform="translate(1122.95 1459.34) scale(0.88 1)" font-size="7.75" text-anchor="middle" font-weight="bold">ŚCIANA WEWNĘTRZNA NOŚNA</text>
<text transform="translate(1034.4 1469.06) scale(0.88 1)" font-size="7.75" text-anchor="end" fill="#222">1,5 cm</text>
<text transform="translate(1042.6 1469.06) scale(0.88 1)" font-size="7.75" font-weight="bold">warstwa wykończeniowa</text>
<text transform="translate(1042.6 1478.78) scale(0.88 1)" font-size="7.75" fill="#333">tynk/glazura na kleju (pomieszczenia mokre)</text>
<text transform="translate(1034.4 1488.5) scale(0.88 1)" font-size="7.75" text-anchor="end" fill="#222">36,0 cm</text>
<text transform="translate(1042.6 1488.5) scale(0.88 1)" font-size="7.75" font-weight="bold">konstrukcja nośna</text>
<text transform="translate(1042.6 1498.22) scale(0.88 1)" font-size="7.75" fill="#333">bloczki z betonu komórkowego</text>
<text transform="translate(1034.4 1507.94) scale(0.88 1)" font-size="7.75" text-anchor="end" fill="#222">1,5 cm</text>
<text transform="translate(1042.6 1507.94) scale(0.88 1)" font-size="7.75" font-weight="bold">warstwa wykończeniowa</text>
<text transform="translate(1042.6 1517.66) scale(0.88 1)" font-size="7.75" fill="#333">tynk/glazura na kleju (pomieszczenia mokre)</text>
<path d="M1004.3 1383.5L1208.5 1383.5" stroke="#000" stroke-width="1.1"/>
<path d="M1004.3 1393.22L1208.5 1393.22" stroke="#000" stroke-width="1.1"/>
<path d="M1004.3 1412.66L1208.5 1412.66" stroke="#000" stroke-width="1.1"/>
<path d="M1004.3 1432.1L1208.5 1432.1" stroke="#000" stroke-width="1.1"/>
<path d="M1004.3 1451.54L1208.5 1451.54" stroke="#000" stroke-width="1.1"/>
<path d="M1004.3 1461.26L1208.5 1461.26" stroke="#000" stroke-width="1.1"/>
<path d="M1004.3 1480.7L1208.5 1480.7" stroke="#000" stroke-width="1.1"/>
<path d="M1004.3 1500.14L1208.5 1500.14" stroke="#000" stroke-width="1.1"/>
<path d="M1004.3 1519.58L1208.5 1519.58" stroke="#000" stroke-width="1.1"/>
<path d="M1004.3 1383.5L1004.3 1519.58" stroke="#000" stroke-width="1.1"/>
<path d="M1037.4 1383.5L1037.4 1519.58" stroke="#000" stroke-width="1.1"/>
<path d="M1208.5 1383.5L1208.5 1519.58" stroke="#000" stroke-width="1.1"/>
<text transform="translate(1248.75 1391.3) scale(0.88 1)" font-size="7.75" text-anchor="middle" font-weight="bold">P1</text>
<text transform="translate(1350.85 1391.3) scale(0.88 1)" font-size="7.75" text-anchor="middle" font-weight="bold">POSADZKA NA GRUNCIE</text>
<text transform="translate(1262.3 1401.02) scale(0.88 1)" font-size="7.75" text-anchor="end" fill="#222">2,0 cm</text>
<text transform="translate(1270.5 1401.02) scale(0.88 1)" font-size="7.75" font-weight="bold">posadzka</text>
<text transform="translate(1270.5 1410.74) scale(0.88 1)" font-size="7.75" fill="#333">terakota / gres / deska warstwowa</text>
<text transform="translate(1262.3 1420.46) scale(0.88 1)" font-size="7.75" text-anchor="end" fill="#222">1 x</text>
<text transform="translate(1270.5 1420.46) scale(0.88 1)" font-size="7.75" font-weight="bold">warstwa wyrównawcza/izolacja przeciwwodna</text>
<text transform="translate(1270.5 1430.18) scale(0.88 1)" font-size="7.75" fill="#333">zaprawa klejowa / polimerowo-cementowa zaprawa</text>
<text transform="translate(1270.5 1439.9) scale(0.88 1)" font-size="7.75" fill="#333">wodoszczelna (pomieszczenia mokre)</text>
<text transform="translate(1262.3 1449.62) scale(0.88 1)" font-size="7.75" text-anchor="end" fill="#222">6,0 cm</text>
<text transform="translate(1270.5 1449.62) scale(0.88 1)" font-size="7.75" font-weight="bold">warstwa podkładowa</text>
<text transform="translate(1270.5 1459.34) scale(0.88 1)" font-size="7.75" fill="#333">wylewka betonowa zbrojona siatką</text>
<text transform="translate(1262.3 1469.06) scale(0.88 1)" font-size="7.75" text-anchor="end" fill="#222">1 x</text>
<text transform="translate(1270.5 1469.06) scale(0.88 1)" font-size="7.75" font-weight="bold">przekładka technologiczna</text>
<text transform="translate(1270.5 1478.78) scale(0.88 1)" font-size="7.75" fill="#333">folia PE 0,2 mm / folia aluminowa refleksyjna</text>
<text transform="translate(1262.3 1488.5) scale(0.88 1)" font-size="7.75" text-anchor="end" fill="#222">12,0 cm</text>
<text transform="translate(1270.5 1488.5) scale(0.88 1)" font-size="7.75" font-weight="bold">izolacja termiczna</text>
<text transform="translate(1270.5 1498.22) scale(0.88 1)" font-size="7.75" fill="#333">polistyren ekstrudowany XPS, Λ = 0,045 W/mK</text>
<text transform="translate(1262.3 1507.94) scale(0.88 1)" font-size="7.75" text-anchor="end" font-weight="bold">2 x</text>
<text transform="translate(1270.5 1507.94) scale(0.88 1)" font-size="7.75" font-weight="bold">izolacja przeciwwodna</text>
<text transform="translate(1270.5 1517.66) scale(0.88 1)" font-size="7.75" font-weight="bold">masa polimerowo bitumiczna 2kg/m<tspan font-size="5" dy="-2.5">2</tspan></text>
<text transform="translate(1262.3 1527.38) scale(0.88 1)" font-size="7.75" text-anchor="end" fill="#222">15,0 cm</text>
<text transform="translate(1270.5 1527.38) scale(0.88 1)" font-size="7.75" font-weight="bold">warstwa podkładowa</text>
<text transform="translate(1270.5 1537.1) scale(0.88 1)" font-size="7.75" fill="#333">beton C16/20</text>
<text transform="translate(1262.3 1546.82) scale(0.88 1)" font-size="7.75" text-anchor="end" fill="#222">1 x</text>
<text transform="translate(1270.5 1546.82) scale(0.88 1)" font-size="7.75" font-weight="bold">warstwa rozdzielająca</text>
<text transform="translate(1270.5 1556.54) scale(0.88 1)" font-size="7.75" fill="#333">folia PE 0,2 mm</text>
<text transform="translate(1262.3 1566.26) scale(0.88 1)" font-size="7.75" text-anchor="end" fill="#222">20,0 cm</text>
<text transform="translate(1270.5 1566.26) scale(0.88 1)" font-size="7.75" font-weight="bold">warstwa wyrównawcza</text>
<text transform="translate(1270.5 1575.98) scale(0.88 1)" font-size="7.75" fill="#333">kruszywo frakcji 8-16 mm</text>
<text transform="translate(1262.3 1585.7) scale(0.88 1)" font-size="7.75" text-anchor="end" fill="#222">1 x</text>
<text transform="translate(1270.5 1585.7) scale(0.88 1)" font-size="7.75" font-weight="bold">warstwa rozdzielająca</text>
<text transform="translate(1270.5 1595.42) scale(0.88 1)" font-size="7.75" fill="#333">geowłóknina</text>
<text transform="translate(1262.3 1605.14) scale(0.88 1)" font-size="7.75" text-anchor="end" fill="#222">-</text>
<text transform="translate(1270.5 1605.14) scale(0.88 1)" font-size="7.75" font-weight="bold">grunt rodzimy</text>
<path d="M1232.2 1383.5L1436.4 1383.5" stroke="#000" stroke-width="1.1"/>
<path d="M1232.2 1393.22L1436.4 1393.22" stroke="#000" stroke-width="1.1"/>
<path d="M1232.2 1412.66L1436.4 1412.66" stroke="#000" stroke-width="1.1"/>
<path d="M1232.2 1441.82L1436.4 1441.82" stroke="#000" stroke-width="1.1"/>
<path d="M1232.2 1461.26L1436.4 1461.26" stroke="#000" stroke-width="1.1"/>
<path d="M1232.2 1480.7L1436.4 1480.7" stroke="#000" stroke-width="1.1"/>
<path d="M1232.2 1500.14L1436.4 1500.14" stroke="#000" stroke-width="1.1"/>
<path d="M1232.2 1519.58L1436.4 1519.58" stroke="#000" stroke-width="1.1"/>
<path d="M1232.2 1539.02L1436.4 1539.02" stroke="#000" stroke-width="1.1"/>
<path d="M1232.2 1558.46L1436.4 1558.46" stroke="#000" stroke-width="1.1"/>
<path d="M1232.2 1577.9L1436.4 1577.9" stroke="#000" stroke-width="1.1"/>
<path d="M1232.2 1597.34L1436.4 1597.34" stroke="#000" stroke-width="1.1"/>
<path d="M1232.2 1607.06L1436.4 1607.06" stroke="#000" stroke-width="1.1"/>
<path d="M1232.2 1383.5L1232.2 1607.06" stroke="#000" stroke-width="1.1"/>
<path d="M1265.3 1383.5L1265.3 1607.06" stroke="#000" stroke-width="1.1"/>
<path d="M1436.4 1383.5L1436.4 1607.06" stroke="#000" stroke-width="1.1"/>
<text transform="translate(1476.75 1391.3) scale(0.88 1)" font-size="7.75" text-anchor="middle" font-weight="bold">D1</text>
<text transform="translate(1578.85 1391.3) scale(0.88 1)" font-size="7.75" text-anchor="middle" font-weight="bold">DACH</text>
<text transform="translate(1490.3 1401.02) scale(0.88 1)" font-size="7.75" text-anchor="end" fill="#222">16,0 cm</text>
<text transform="translate(1498.5 1401.02) scale(0.88 1)" font-size="7.75" font-weight="bold">pokrycie dachowe</text>
<text transform="translate(1498.5 1410.74) scale(0.88 1)" font-size="7.75" fill="#333">płyta warstwowa z rdzeniem izolacyjnym z pianki PIR</text>
<text transform="translate(1490.3 1420.46) scale(0.88 1)" font-size="7.75" text-anchor="end" fill="#222">2,2 cm</text>
<text transform="translate(1498.5 1420.46) scale(0.88 1)" font-size="7.75" font-weight="bold">deskowanie pełne</text>
<text transform="translate(1498.5 1430.18) scale(0.88 1)" font-size="7.75" fill="#333">płyta OSB3</text>
<text transform="translate(1490.3 1439.9) scale(0.88 1)" font-size="7.75" text-anchor="end" fill="#222">-</text>
<text transform="translate(1498.5 1439.9) scale(0.88 1)" font-size="7.75" font-weight="bold">konstrukcja dachu</text>
<text transform="translate(1498.5 1449.62) scale(0.88 1)" font-size="7.75" fill="#333">prefabrykowany wiązar drewniany</text>
<path d="M1460.2 1383.5L1664.4 1383.5" stroke="#000" stroke-width="1.1"/>
<path d="M1460.2 1393.22L1664.4 1393.22" stroke="#000" stroke-width="1.1"/>
<path d="M1460.2 1412.66L1664.4 1412.66" stroke="#000" stroke-width="1.1"/>
<path d="M1460.2 1432.1L1664.4 1432.1" stroke="#000" stroke-width="1.1"/>
<path d="M1460.2 1451.54L1664.4 1451.54" stroke="#000" stroke-width="1.1"/>
<path d="M1460.2 1383.5L1460.2 1451.54" stroke="#000" stroke-width="1.1"/>
<path d="M1493.3 1383.5L1493.3 1451.54" stroke="#000" stroke-width="1.1"/>
<path d="M1664.4 1383.5L1664.4 1451.54" stroke="#000" stroke-width="1.1"/>
</svg>
</body></html>
